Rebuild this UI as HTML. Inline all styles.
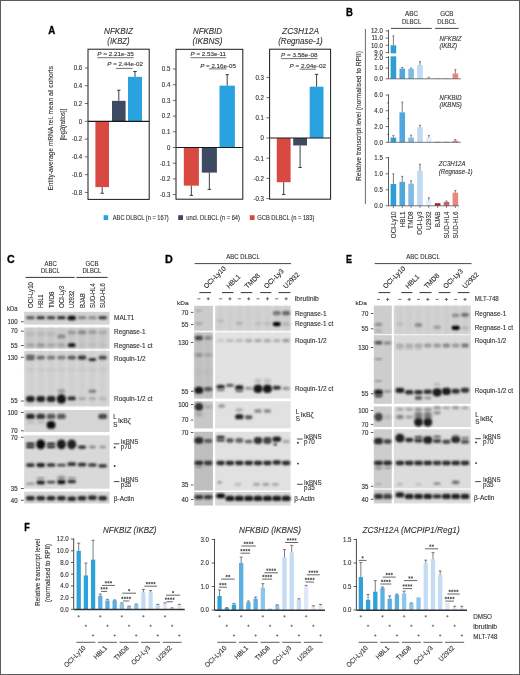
<!DOCTYPE html>
<html><head><meta charset="utf-8"><style>
html,body{margin:0;padding:0;background:#fff;}
svg{display:block;will-change:transform;}
text{font-family:"Liberation Sans", sans-serif;}
</style></head><body>
<svg width="520" height="675" viewBox="0 0 520 675">
<defs>
<filter id="bl" x="-50%" y="-50%" width="200%" height="200%"><feGaussianBlur stdDeviation="0.8"/></filter>
<filter id="bl2" x="-50%" y="-50%" width="200%" height="200%"><feGaussianBlur stdDeviation="1.4"/></filter>
<filter id="bl3" x="-20%" y="-20%" width="140%" height="140%"><feGaussianBlur stdDeviation="0.4"/></filter>
</defs>
<rect x="0" y="0" width="520" height="675" fill="#fff"/>
<text x="48.20" y="33.60" font-size="10.6" font-weight="bold" fill="#000" stroke="#000" stroke-width="0.3" textLength="7.00" lengthAdjust="spacingAndGlyphs">A</text>
<rect x="95.40" y="121.30" width="13.60" height="65.79" fill="#d84a41"/>
<line x1="102.20" y1="187.09" x2="102.20" y2="193.31" stroke="#2a2a2a" stroke-width="0.9"/>
<line x1="100.50" y1="193.31" x2="103.90" y2="193.31" stroke="#2a2a2a" stroke-width="0.9"/>
<rect x="112.00" y="100.85" width="13.60" height="20.45" fill="#3e4a62"/>
<line x1="118.80" y1="100.85" x2="118.80" y2="90.19" stroke="#2a2a2a" stroke-width="0.9"/>
<line x1="117.10" y1="90.19" x2="120.50" y2="90.19" stroke="#2a2a2a" stroke-width="0.9"/>
<rect x="128.00" y="76.85" width="14.00" height="44.45" fill="#29a3e0"/>
<line x1="135.00" y1="76.85" x2="135.00" y2="71.52" stroke="#2a2a2a" stroke-width="0.9"/>
<line x1="133.30" y1="71.52" x2="136.70" y2="71.52" stroke="#2a2a2a" stroke-width="0.9"/>
<rect x="88.00" y="49.20" width="61.20" height="150.20" fill="none" stroke="#1a1a1a" stroke-width="1"/>
<line x1="88.00" y1="121.30" x2="149.20" y2="121.30" stroke="#1a1a1a" stroke-width="1.2"/>
<line x1="84.80" y1="67.96" x2="88.00" y2="67.96" stroke="#333" stroke-width="0.7"/>
<text x="82.20" y="70.26" font-size="6.4" text-anchor="end" fill="#333" stroke="#333" stroke-width="0.12" textLength="8.45" lengthAdjust="spacingAndGlyphs">0.6</text>
<line x1="84.80" y1="85.74" x2="88.00" y2="85.74" stroke="#333" stroke-width="0.7"/>
<text x="82.20" y="88.04" font-size="6.4" text-anchor="end" fill="#333" stroke="#333" stroke-width="0.12" textLength="8.45" lengthAdjust="spacingAndGlyphs">0.4</text>
<line x1="84.80" y1="103.52" x2="88.00" y2="103.52" stroke="#333" stroke-width="0.7"/>
<text x="82.20" y="105.82" font-size="6.4" text-anchor="end" fill="#333" stroke="#333" stroke-width="0.12" textLength="8.45" lengthAdjust="spacingAndGlyphs">0.2</text>
<line x1="84.80" y1="121.30" x2="88.00" y2="121.30" stroke="#333" stroke-width="0.7"/>
<text x="82.20" y="123.60" font-size="6.4" text-anchor="end" fill="#333" stroke="#333" stroke-width="0.12" textLength="3.38" lengthAdjust="spacingAndGlyphs">0</text>
<line x1="84.80" y1="139.08" x2="88.00" y2="139.08" stroke="#333" stroke-width="0.7"/>
<text x="82.20" y="141.38" font-size="6.4" text-anchor="end" fill="#333" stroke="#333" stroke-width="0.12" textLength="10.48" lengthAdjust="spacingAndGlyphs">-0.2</text>
<line x1="84.80" y1="156.86" x2="88.00" y2="156.86" stroke="#333" stroke-width="0.7"/>
<text x="82.20" y="159.16" font-size="6.4" text-anchor="end" fill="#333" stroke="#333" stroke-width="0.12" textLength="10.48" lengthAdjust="spacingAndGlyphs">-0.4</text>
<line x1="84.80" y1="174.64" x2="88.00" y2="174.64" stroke="#333" stroke-width="0.7"/>
<text x="82.20" y="176.94" font-size="6.4" text-anchor="end" fill="#333" stroke="#333" stroke-width="0.12" textLength="10.48" lengthAdjust="spacingAndGlyphs">-0.6</text>
<line x1="84.80" y1="192.42" x2="88.00" y2="192.42" stroke="#333" stroke-width="0.7"/>
<text x="82.20" y="194.72" font-size="6.4" text-anchor="end" fill="#333" stroke="#333" stroke-width="0.12" textLength="10.48" lengthAdjust="spacingAndGlyphs">-0.8</text>
<text x="118.50" y="34.40" font-size="8.6" text-anchor="middle" fill="#333" stroke="#333" stroke-width="0.12" font-style="italic" textLength="29.00" lengthAdjust="spacingAndGlyphs">NFKBIZ</text>
<text x="118.50" y="44.30" font-size="8.6" text-anchor="middle" fill="#333" stroke="#333" stroke-width="0.12" font-style="italic" textLength="22.30" lengthAdjust="spacingAndGlyphs">(IKBZ)</text>
<text x="97.30" y="55.60" font-size="6.2" fill="#333" stroke="#333" stroke-width="0.12" textLength="36.40" lengthAdjust="spacingAndGlyphs"><tspan font-style="italic">P</tspan> = 2.21e-35</text>
<line x1="97.30" y1="57.70" x2="133.70" y2="57.70" stroke="#333" stroke-width="0.7"/>
<text x="107.30" y="66.40" font-size="6.2" fill="#333" stroke="#333" stroke-width="0.12" textLength="35.70" lengthAdjust="spacingAndGlyphs"><tspan font-style="italic">P</tspan> = 2.44e-02</text>
<line x1="116.00" y1="68.40" x2="132.30" y2="68.40" stroke="#333" stroke-width="0.7"/>
<rect x="183.80" y="147.50" width="15.10" height="38.15" fill="#d84a41"/>
<line x1="191.35" y1="185.65" x2="191.35" y2="195.38" stroke="#2a2a2a" stroke-width="0.9"/>
<line x1="189.65" y1="195.38" x2="193.05" y2="195.38" stroke="#2a2a2a" stroke-width="0.9"/>
<rect x="201.80" y="147.50" width="15.10" height="25.12" fill="#3e4a62"/>
<line x1="209.35" y1="172.62" x2="209.35" y2="189.42" stroke="#2a2a2a" stroke-width="0.9"/>
<line x1="207.65" y1="189.42" x2="211.05" y2="189.42" stroke="#2a2a2a" stroke-width="0.9"/>
<rect x="219.50" y="85.64" width="15.40" height="61.86" fill="#29a3e0"/>
<line x1="227.20" y1="85.64" x2="227.20" y2="74.65" stroke="#2a2a2a" stroke-width="0.9"/>
<line x1="225.50" y1="74.65" x2="228.90" y2="74.65" stroke="#2a2a2a" stroke-width="0.9"/>
<rect x="176.00" y="49.30" width="66.80" height="149.90" fill="none" stroke="#1a1a1a" stroke-width="1"/>
<line x1="176.00" y1="147.50" x2="242.80" y2="147.50" stroke="#1a1a1a" stroke-width="1.2"/>
<line x1="172.80" y1="69.00" x2="176.00" y2="69.00" stroke="#333" stroke-width="0.7"/>
<text x="170.30" y="71.30" font-size="6.4" text-anchor="end" fill="#333" stroke="#333" stroke-width="0.12" textLength="8.45" lengthAdjust="spacingAndGlyphs">0.5</text>
<line x1="172.80" y1="84.70" x2="176.00" y2="84.70" stroke="#333" stroke-width="0.7"/>
<text x="170.30" y="87.00" font-size="6.4" text-anchor="end" fill="#333" stroke="#333" stroke-width="0.12" textLength="8.45" lengthAdjust="spacingAndGlyphs">0.4</text>
<line x1="172.80" y1="100.40" x2="176.00" y2="100.40" stroke="#333" stroke-width="0.7"/>
<text x="170.30" y="102.70" font-size="6.4" text-anchor="end" fill="#333" stroke="#333" stroke-width="0.12" textLength="8.45" lengthAdjust="spacingAndGlyphs">0.3</text>
<line x1="172.80" y1="116.10" x2="176.00" y2="116.10" stroke="#333" stroke-width="0.7"/>
<text x="170.30" y="118.40" font-size="6.4" text-anchor="end" fill="#333" stroke="#333" stroke-width="0.12" textLength="8.45" lengthAdjust="spacingAndGlyphs">0.2</text>
<line x1="172.80" y1="131.80" x2="176.00" y2="131.80" stroke="#333" stroke-width="0.7"/>
<text x="170.30" y="134.10" font-size="6.4" text-anchor="end" fill="#333" stroke="#333" stroke-width="0.12" textLength="8.45" lengthAdjust="spacingAndGlyphs">0.1</text>
<line x1="172.80" y1="147.50" x2="176.00" y2="147.50" stroke="#333" stroke-width="0.7"/>
<text x="170.30" y="149.80" font-size="6.4" text-anchor="end" fill="#333" stroke="#333" stroke-width="0.12" textLength="3.38" lengthAdjust="spacingAndGlyphs">0</text>
<line x1="172.80" y1="163.20" x2="176.00" y2="163.20" stroke="#333" stroke-width="0.7"/>
<text x="170.30" y="165.50" font-size="6.4" text-anchor="end" fill="#333" stroke="#333" stroke-width="0.12" textLength="10.48" lengthAdjust="spacingAndGlyphs">-0.1</text>
<line x1="172.80" y1="178.90" x2="176.00" y2="178.90" stroke="#333" stroke-width="0.7"/>
<text x="170.30" y="181.20" font-size="6.4" text-anchor="end" fill="#333" stroke="#333" stroke-width="0.12" textLength="10.48" lengthAdjust="spacingAndGlyphs">-0.2</text>
<line x1="172.80" y1="194.60" x2="176.00" y2="194.60" stroke="#333" stroke-width="0.7"/>
<text x="170.30" y="196.90" font-size="6.4" text-anchor="end" fill="#333" stroke="#333" stroke-width="0.12" textLength="10.48" lengthAdjust="spacingAndGlyphs">-0.3</text>
<text x="207.50" y="34.40" font-size="8.6" text-anchor="middle" fill="#333" stroke="#333" stroke-width="0.12" font-style="italic" textLength="29.00" lengthAdjust="spacingAndGlyphs">NFKBID</text>
<text x="207.50" y="44.30" font-size="8.6" text-anchor="middle" fill="#333" stroke="#333" stroke-width="0.12" font-style="italic" textLength="30.00" lengthAdjust="spacingAndGlyphs">(IKBNS)</text>
<text x="190.50" y="56.30" font-size="6.2" fill="#333" stroke="#333" stroke-width="0.12" textLength="35.50" lengthAdjust="spacingAndGlyphs"><tspan font-style="italic">P</tspan> = 2.53e-11</text>
<line x1="190.50" y1="57.70" x2="226.00" y2="57.70" stroke="#333" stroke-width="0.7"/>
<text x="200.20" y="67.50" font-size="6.2" fill="#333" stroke="#333" stroke-width="0.12" textLength="35.70" lengthAdjust="spacingAndGlyphs"><tspan font-style="italic">P</tspan> = 2.16e-05</text>
<line x1="209.00" y1="68.90" x2="226.50" y2="68.90" stroke="#333" stroke-width="0.7"/>
<rect x="276.80" y="138.00" width="13.80" height="44.24" fill="#d84a41"/>
<line x1="283.70" y1="182.24" x2="283.70" y2="194.56" stroke="#2a2a2a" stroke-width="0.9"/>
<line x1="282.00" y1="194.56" x2="285.40" y2="194.56" stroke="#2a2a2a" stroke-width="0.9"/>
<rect x="293.20" y="138.00" width="13.80" height="7.47" fill="#3e4a62"/>
<line x1="300.10" y1="145.47" x2="300.10" y2="167.49" stroke="#2a2a2a" stroke-width="0.9"/>
<line x1="298.40" y1="167.49" x2="301.80" y2="167.49" stroke="#2a2a2a" stroke-width="0.9"/>
<rect x="309.70" y="86.69" width="13.80" height="51.31" fill="#29a3e0"/>
<line x1="316.60" y1="86.69" x2="316.60" y2="74.37" stroke="#2a2a2a" stroke-width="0.9"/>
<line x1="314.90" y1="74.37" x2="318.30" y2="74.37" stroke="#2a2a2a" stroke-width="0.9"/>
<rect x="269.60" y="49.20" width="61.00" height="150.00" fill="none" stroke="#1a1a1a" stroke-width="1"/>
<line x1="269.60" y1="138.00" x2="330.60" y2="138.00" stroke="#1a1a1a" stroke-width="1.2"/>
<line x1="266.40" y1="77.40" x2="269.60" y2="77.40" stroke="#333" stroke-width="0.7"/>
<text x="263.90" y="79.70" font-size="6.4" text-anchor="end" fill="#333" stroke="#333" stroke-width="0.12" textLength="8.45" lengthAdjust="spacingAndGlyphs">0.3</text>
<line x1="266.40" y1="97.60" x2="269.60" y2="97.60" stroke="#333" stroke-width="0.7"/>
<text x="263.90" y="99.90" font-size="6.4" text-anchor="end" fill="#333" stroke="#333" stroke-width="0.12" textLength="8.45" lengthAdjust="spacingAndGlyphs">0.2</text>
<line x1="266.40" y1="117.80" x2="269.60" y2="117.80" stroke="#333" stroke-width="0.7"/>
<text x="263.90" y="120.10" font-size="6.4" text-anchor="end" fill="#333" stroke="#333" stroke-width="0.12" textLength="8.45" lengthAdjust="spacingAndGlyphs">0.1</text>
<line x1="266.40" y1="138.00" x2="269.60" y2="138.00" stroke="#333" stroke-width="0.7"/>
<text x="263.90" y="140.30" font-size="6.4" text-anchor="end" fill="#333" stroke="#333" stroke-width="0.12" textLength="3.38" lengthAdjust="spacingAndGlyphs">0</text>
<line x1="266.40" y1="158.20" x2="269.60" y2="158.20" stroke="#333" stroke-width="0.7"/>
<text x="263.90" y="160.50" font-size="6.4" text-anchor="end" fill="#333" stroke="#333" stroke-width="0.12" textLength="10.48" lengthAdjust="spacingAndGlyphs">-0.1</text>
<line x1="266.40" y1="178.40" x2="269.60" y2="178.40" stroke="#333" stroke-width="0.7"/>
<text x="263.90" y="180.70" font-size="6.4" text-anchor="end" fill="#333" stroke="#333" stroke-width="0.12" textLength="10.48" lengthAdjust="spacingAndGlyphs">-0.2</text>
<line x1="266.40" y1="198.60" x2="269.60" y2="198.60" stroke="#333" stroke-width="0.7"/>
<text x="263.90" y="200.90" font-size="6.4" text-anchor="end" fill="#333" stroke="#333" stroke-width="0.12" textLength="10.48" lengthAdjust="spacingAndGlyphs">-0.3</text>
<text x="300.50" y="34.40" font-size="8.6" text-anchor="middle" fill="#333" stroke="#333" stroke-width="0.12" font-style="italic" textLength="37.00" lengthAdjust="spacingAndGlyphs">ZC3H12A</text>
<text x="300.50" y="44.30" font-size="8.6" text-anchor="middle" fill="#333" stroke="#333" stroke-width="0.12" font-style="italic" textLength="44.60" lengthAdjust="spacingAndGlyphs">(Regnase-1)</text>
<text x="281.00" y="57.00" font-size="6.2" fill="#333" stroke="#333" stroke-width="0.12" textLength="36.50" lengthAdjust="spacingAndGlyphs"><tspan font-style="italic">P</tspan> = 3.58e-08</text>
<line x1="281.00" y1="58.60" x2="317.50" y2="58.60" stroke="#333" stroke-width="0.7"/>
<text x="289.60" y="67.70" font-size="6.2" fill="#333" stroke="#333" stroke-width="0.12" textLength="36.40" lengthAdjust="spacingAndGlyphs"><tspan font-style="italic">P</tspan> = 2.04e-02</text>
<line x1="299.60" y1="69.20" x2="316.00" y2="69.20" stroke="#333" stroke-width="0.7"/>
<text x="53.30" y="128.30" font-size="7.2" text-anchor="middle" fill="#333" stroke="#333" stroke-width="0.12" textLength="124.60" lengthAdjust="spacingAndGlyphs" transform="rotate(-90 53.30 128.30)">Entity-average mRNA rel. mean all cohorts</text>
<text x="64.50" y="124.50" font-size="7.2" text-anchor="middle" fill="#333" stroke="#333" stroke-width="0.12" textLength="31.50" lengthAdjust="spacingAndGlyphs" transform="rotate(-90 64.50 124.50)">[log2(ratios)]</text>
<rect x="103.60" y="215.20" width="4.60" height="4.80" fill="#29a3e0"/>
<text x="112.80" y="220.20" font-size="6.6" fill="#333" stroke="#333" stroke-width="0.12" textLength="55.90" lengthAdjust="spacingAndGlyphs">ABC DLBCL (n = 167)</text>
<rect x="178.20" y="215.20" width="4.80" height="4.80" fill="#3e4a62"/>
<text x="186.30" y="220.20" font-size="6.6" fill="#333" stroke="#333" stroke-width="0.12" textLength="53.70" lengthAdjust="spacingAndGlyphs">uncl. DLBCL (n = 64)</text>
<rect x="249.80" y="215.20" width="4.80" height="4.80" fill="#d84a41"/>
<text x="257.30" y="220.20" font-size="6.6" fill="#333" stroke="#333" stroke-width="0.12" textLength="57.10" lengthAdjust="spacingAndGlyphs">GCB DLBCL (n = 183)</text>
<text x="346.00" y="15.60" font-size="10.6" font-weight="bold" fill="#000" stroke="#000" stroke-width="0.3" textLength="6.90" lengthAdjust="spacingAndGlyphs">B</text>
<text x="411.60" y="16.20" font-size="6.6" text-anchor="middle" fill="#333" stroke="#333" stroke-width="0.12" textLength="13.00" lengthAdjust="spacingAndGlyphs">ABC</text>
<text x="411.60" y="23.50" font-size="6.6" text-anchor="middle" fill="#333" stroke="#333" stroke-width="0.12" textLength="19.30" lengthAdjust="spacingAndGlyphs">DLBCL</text>
<text x="446.80" y="16.20" font-size="6.6" text-anchor="middle" fill="#333" stroke="#333" stroke-width="0.12" textLength="13.30" lengthAdjust="spacingAndGlyphs">GCB</text>
<text x="446.80" y="23.50" font-size="6.6" text-anchor="middle" fill="#333" stroke="#333" stroke-width="0.12" textLength="19.00" lengthAdjust="spacingAndGlyphs">DLBCL</text>
<line x1="391.00" y1="28.40" x2="431.80" y2="28.40" stroke="#333" stroke-width="0.9"/>
<line x1="435.00" y1="28.40" x2="458.70" y2="28.40" stroke="#333" stroke-width="0.9"/>
<line x1="365.40" y1="29.00" x2="365.40" y2="204.00" stroke="#444" stroke-width="0.8"/>
<text x="360.80" y="116.00" font-size="7.0" text-anchor="middle" fill="#333" stroke="#333" stroke-width="0.12" textLength="130.00" lengthAdjust="spacingAndGlyphs" transform="rotate(-90 360.80 116.00)">Relative transcript level (normalised to RPII)</text>
<line x1="388.50" y1="29.80" x2="388.50" y2="78.80" stroke="#333" stroke-width="0.8"/>
<line x1="385.70" y1="30.90" x2="388.50" y2="30.90" stroke="#333" stroke-width="0.7"/>
<text x="382.80" y="33.10" font-size="6.4" text-anchor="end" fill="#333" stroke="#333" stroke-width="0.12" textLength="11.83" lengthAdjust="spacingAndGlyphs">12.0</text>
<line x1="385.70" y1="38.10" x2="388.50" y2="38.10" stroke="#333" stroke-width="0.7"/>
<text x="382.80" y="40.30" font-size="6.4" text-anchor="end" fill="#333" stroke="#333" stroke-width="0.12" textLength="11.38" lengthAdjust="spacingAndGlyphs">11.0</text>
<line x1="385.70" y1="45.30" x2="388.50" y2="45.30" stroke="#333" stroke-width="0.7"/>
<text x="382.80" y="47.50" font-size="6.4" text-anchor="end" fill="#333" stroke="#333" stroke-width="0.12" textLength="11.83" lengthAdjust="spacingAndGlyphs">10.0</text>
<line x1="385.70" y1="52.50" x2="388.50" y2="52.50" stroke="#333" stroke-width="0.7"/>
<text x="382.80" y="54.70" font-size="6.4" text-anchor="end" fill="#333" stroke="#333" stroke-width="0.12" textLength="8.45" lengthAdjust="spacingAndGlyphs">9.0</text>
<line x1="385.70" y1="57.40" x2="388.50" y2="57.40" stroke="#333" stroke-width="0.7"/>
<text x="382.80" y="59.60" font-size="6.4" text-anchor="end" fill="#333" stroke="#333" stroke-width="0.12" textLength="8.45" lengthAdjust="spacingAndGlyphs">2.0</text>
<line x1="385.70" y1="68.10" x2="388.50" y2="68.10" stroke="#333" stroke-width="0.7"/>
<text x="382.80" y="70.30" font-size="6.4" text-anchor="end" fill="#333" stroke="#333" stroke-width="0.12" textLength="8.45" lengthAdjust="spacingAndGlyphs">1.0</text>
<line x1="385.70" y1="78.80" x2="388.50" y2="78.80" stroke="#333" stroke-width="0.7"/>
<text x="382.80" y="81.00" font-size="6.4" text-anchor="end" fill="#333" stroke="#333" stroke-width="0.12" textLength="8.45" lengthAdjust="spacingAndGlyphs">0.0</text>
<rect x="390.60" y="45.30" width="5.60" height="33.50" fill="#2e9fd6"/>
<line x1="393.40" y1="45.30" x2="393.40" y2="35.94" stroke="#666" stroke-width="0.85"/>
<line x1="392.40" y1="35.94" x2="394.40" y2="35.94" stroke="#666" stroke-width="0.85"/>
<rect x="399.45" y="68.63" width="5.60" height="10.17" fill="#4fa7dd"/>
<line x1="402.25" y1="68.63" x2="402.25" y2="67.56" stroke="#666" stroke-width="0.85"/>
<line x1="401.25" y1="67.56" x2="403.25" y2="67.56" stroke="#666" stroke-width="0.85"/>
<rect x="408.30" y="68.96" width="5.60" height="9.84" fill="#7fbbe6"/>
<line x1="411.10" y1="68.96" x2="411.10" y2="68.10" stroke="#666" stroke-width="0.85"/>
<line x1="410.10" y1="68.10" x2="412.10" y2="68.10" stroke="#666" stroke-width="0.85"/>
<rect x="417.15" y="64.89" width="5.60" height="13.91" fill="#c0daf2"/>
<line x1="419.95" y1="64.89" x2="419.95" y2="61.68" stroke="#666" stroke-width="0.85"/>
<line x1="418.95" y1="61.68" x2="420.95" y2="61.68" stroke="#666" stroke-width="0.85"/>
<rect x="426.00" y="77.52" width="5.60" height="1.28" fill="#e6eef8"/>
<line x1="428.80" y1="77.52" x2="428.80" y2="77.19" stroke="#666" stroke-width="0.85"/>
<line x1="427.80" y1="77.19" x2="429.80" y2="77.19" stroke="#666" stroke-width="0.85"/>
<rect x="434.85" y="78.59" width="5.60" height="0.21" fill="#9e1a35"/>
<rect x="443.70" y="78.48" width="5.60" height="0.32" fill="#c85f66"/>
<rect x="452.55" y="73.45" width="5.60" height="5.35" fill="#e8887c"/>
<line x1="455.35" y1="73.45" x2="455.35" y2="69.70" stroke="#666" stroke-width="0.85"/>
<line x1="454.35" y1="69.70" x2="456.35" y2="69.70" stroke="#666" stroke-width="0.85"/>
<rect x="387.50" y="53.40" width="10.00" height="2.90" fill="#fff"/>
<line x1="388.50" y1="78.80" x2="460.80" y2="78.80" stroke="#555" stroke-width="0.8"/>
<text x="439.60" y="40.60" font-size="6.4" fill="#333" stroke="#333" stroke-width="0.12" font-style="italic" textLength="21.90" lengthAdjust="spacingAndGlyphs">NFKBIZ</text>
<text x="439.60" y="47.90" font-size="6.4" fill="#333" stroke="#333" stroke-width="0.12" font-style="italic" textLength="17.56" lengthAdjust="spacingAndGlyphs">(IKBZ)</text>
<line x1="388.50" y1="94.30" x2="388.50" y2="142.30" stroke="#333" stroke-width="0.8"/>
<line x1="385.70" y1="95.02" x2="388.50" y2="95.02" stroke="#333" stroke-width="0.7"/>
<text x="382.80" y="97.22" font-size="6.4" text-anchor="end" fill="#333" stroke="#333" stroke-width="0.12" textLength="8.45" lengthAdjust="spacingAndGlyphs">6.0</text>
<line x1="385.70" y1="110.78" x2="388.50" y2="110.78" stroke="#333" stroke-width="0.7"/>
<text x="382.80" y="112.98" font-size="6.4" text-anchor="end" fill="#333" stroke="#333" stroke-width="0.12" textLength="8.45" lengthAdjust="spacingAndGlyphs">4.0</text>
<line x1="385.70" y1="126.54" x2="388.50" y2="126.54" stroke="#333" stroke-width="0.7"/>
<text x="382.80" y="128.74" font-size="6.4" text-anchor="end" fill="#333" stroke="#333" stroke-width="0.12" textLength="8.45" lengthAdjust="spacingAndGlyphs">2.0</text>
<line x1="385.70" y1="142.30" x2="388.50" y2="142.30" stroke="#333" stroke-width="0.7"/>
<text x="382.80" y="144.50" font-size="6.4" text-anchor="end" fill="#333" stroke="#333" stroke-width="0.12" textLength="8.45" lengthAdjust="spacingAndGlyphs">0.0</text>
<line x1="386.90" y1="102.90" x2="388.50" y2="102.90" stroke="#333" stroke-width="0.6"/>
<line x1="386.90" y1="118.66" x2="388.50" y2="118.66" stroke="#333" stroke-width="0.6"/>
<line x1="386.90" y1="134.42" x2="388.50" y2="134.42" stroke="#333" stroke-width="0.6"/>
<rect x="390.60" y="137.57" width="5.60" height="4.73" fill="#2e9fd6"/>
<line x1="393.40" y1="137.57" x2="393.40" y2="135.60" stroke="#666" stroke-width="0.85"/>
<line x1="392.40" y1="135.60" x2="394.40" y2="135.60" stroke="#666" stroke-width="0.85"/>
<rect x="399.45" y="112.36" width="5.60" height="29.94" fill="#4fa7dd"/>
<line x1="402.25" y1="112.36" x2="402.25" y2="102.11" stroke="#666" stroke-width="0.85"/>
<line x1="401.25" y1="102.11" x2="403.25" y2="102.11" stroke="#666" stroke-width="0.85"/>
<rect x="408.30" y="137.57" width="5.60" height="4.73" fill="#7fbbe6"/>
<line x1="411.10" y1="137.57" x2="411.10" y2="135.21" stroke="#666" stroke-width="0.85"/>
<line x1="410.10" y1="135.21" x2="412.10" y2="135.21" stroke="#666" stroke-width="0.85"/>
<rect x="417.15" y="127.33" width="5.60" height="14.97" fill="#c0daf2"/>
<line x1="419.95" y1="127.33" x2="419.95" y2="125.36" stroke="#666" stroke-width="0.85"/>
<line x1="418.95" y1="125.36" x2="420.95" y2="125.36" stroke="#666" stroke-width="0.85"/>
<rect x="426.00" y="137.57" width="5.60" height="4.73" fill="#e6eef8"/>
<line x1="428.80" y1="137.57" x2="428.80" y2="135.60" stroke="#666" stroke-width="0.85"/>
<line x1="427.80" y1="135.60" x2="429.80" y2="135.60" stroke="#666" stroke-width="0.85"/>
<rect x="434.85" y="141.91" width="5.60" height="0.39" fill="#9e1a35"/>
<rect x="443.70" y="141.83" width="5.60" height="0.47" fill="#c85f66"/>
<rect x="452.55" y="140.72" width="5.60" height="1.58" fill="#e8887c"/>
<line x1="455.35" y1="140.72" x2="455.35" y2="139.54" stroke="#666" stroke-width="0.85"/>
<line x1="454.35" y1="139.54" x2="456.35" y2="139.54" stroke="#666" stroke-width="0.85"/>
<line x1="388.50" y1="142.30" x2="460.80" y2="142.30" stroke="#555" stroke-width="0.8"/>
<text x="439.60" y="99.60" font-size="6.4" fill="#333" stroke="#333" stroke-width="0.12" font-style="italic" textLength="21.90" lengthAdjust="spacingAndGlyphs">NFKBID</text>
<text x="439.60" y="107.20" font-size="6.4" fill="#333" stroke="#333" stroke-width="0.12" font-style="italic" textLength="22.30" lengthAdjust="spacingAndGlyphs">(IKBNS)</text>
<line x1="388.50" y1="157.00" x2="388.50" y2="205.80" stroke="#333" stroke-width="0.8"/>
<line x1="385.70" y1="157.80" x2="388.50" y2="157.80" stroke="#333" stroke-width="0.7"/>
<text x="382.80" y="160.00" font-size="6.4" text-anchor="end" fill="#333" stroke="#333" stroke-width="0.12" textLength="8.45" lengthAdjust="spacingAndGlyphs">1.5</text>
<line x1="385.70" y1="173.80" x2="388.50" y2="173.80" stroke="#333" stroke-width="0.7"/>
<text x="382.80" y="176.00" font-size="6.4" text-anchor="end" fill="#333" stroke="#333" stroke-width="0.12" textLength="8.45" lengthAdjust="spacingAndGlyphs">1.0</text>
<line x1="385.70" y1="189.80" x2="388.50" y2="189.80" stroke="#333" stroke-width="0.7"/>
<text x="382.80" y="192.00" font-size="6.4" text-anchor="end" fill="#333" stroke="#333" stroke-width="0.12" textLength="8.45" lengthAdjust="spacingAndGlyphs">0.5</text>
<line x1="385.70" y1="205.80" x2="388.50" y2="205.80" stroke="#333" stroke-width="0.7"/>
<text x="382.80" y="208.00" font-size="6.4" text-anchor="end" fill="#333" stroke="#333" stroke-width="0.12" textLength="8.45" lengthAdjust="spacingAndGlyphs">0.0</text>
<rect x="390.60" y="184.04" width="5.60" height="21.76" fill="#2e9fd6"/>
<line x1="393.40" y1="184.04" x2="393.40" y2="173.80" stroke="#666" stroke-width="0.85"/>
<line x1="392.40" y1="173.80" x2="394.40" y2="173.80" stroke="#666" stroke-width="0.85"/>
<rect x="399.45" y="181.80" width="5.60" height="24.00" fill="#4fa7dd"/>
<line x1="402.25" y1="181.80" x2="402.25" y2="176.36" stroke="#666" stroke-width="0.85"/>
<line x1="401.25" y1="176.36" x2="403.25" y2="176.36" stroke="#666" stroke-width="0.85"/>
<rect x="408.30" y="183.72" width="5.60" height="22.08" fill="#7fbbe6"/>
<line x1="411.10" y1="183.72" x2="411.10" y2="180.84" stroke="#666" stroke-width="0.85"/>
<line x1="410.10" y1="180.84" x2="412.10" y2="180.84" stroke="#666" stroke-width="0.85"/>
<rect x="417.15" y="170.60" width="5.60" height="35.20" fill="#c0daf2"/>
<line x1="419.95" y1="170.60" x2="419.95" y2="164.20" stroke="#666" stroke-width="0.85"/>
<line x1="418.95" y1="164.20" x2="420.95" y2="164.20" stroke="#666" stroke-width="0.85"/>
<rect x="426.00" y="200.68" width="5.60" height="5.12" fill="#e6eef8"/>
<line x1="428.80" y1="200.68" x2="428.80" y2="197.80" stroke="#666" stroke-width="0.85"/>
<line x1="427.80" y1="197.80" x2="429.80" y2="197.80" stroke="#666" stroke-width="0.85"/>
<rect x="434.85" y="203.24" width="5.60" height="2.56" fill="#9e1a35"/>
<rect x="443.70" y="201.96" width="5.60" height="3.84" fill="#c85f66"/>
<line x1="446.50" y1="201.96" x2="446.50" y2="201.00" stroke="#666" stroke-width="0.85"/>
<line x1="445.50" y1="201.00" x2="447.50" y2="201.00" stroke="#666" stroke-width="0.85"/>
<rect x="452.55" y="192.68" width="5.60" height="13.12" fill="#e8887c"/>
<line x1="455.35" y1="192.68" x2="455.35" y2="190.44" stroke="#666" stroke-width="0.85"/>
<line x1="454.35" y1="190.44" x2="456.35" y2="190.44" stroke="#666" stroke-width="0.85"/>
<line x1="388.50" y1="205.80" x2="459.00" y2="205.80" stroke="#555" stroke-width="0.8"/>
<line x1="393.40" y1="205.80" x2="393.40" y2="208.00" stroke="#333" stroke-width="0.6"/>
<line x1="402.25" y1="205.80" x2="402.25" y2="208.00" stroke="#333" stroke-width="0.6"/>
<line x1="411.10" y1="205.80" x2="411.10" y2="208.00" stroke="#333" stroke-width="0.6"/>
<line x1="419.95" y1="205.80" x2="419.95" y2="208.00" stroke="#333" stroke-width="0.6"/>
<line x1="428.80" y1="205.80" x2="428.80" y2="208.00" stroke="#333" stroke-width="0.6"/>
<line x1="437.65" y1="205.80" x2="437.65" y2="208.00" stroke="#333" stroke-width="0.6"/>
<line x1="446.50" y1="205.80" x2="446.50" y2="208.00" stroke="#333" stroke-width="0.6"/>
<line x1="455.35" y1="205.80" x2="455.35" y2="208.00" stroke="#333" stroke-width="0.6"/>
<text x="438.80" y="166.20" font-size="6.4" fill="#333" stroke="#333" stroke-width="0.12" font-style="italic" textLength="26.69" lengthAdjust="spacingAndGlyphs">ZC3H12A</text>
<text x="438.80" y="173.80" font-size="6.4" fill="#333" stroke="#333" stroke-width="0.12" font-style="italic" textLength="33.79" lengthAdjust="spacingAndGlyphs">(Regnase-1)</text>
<text x="395.70" y="211.60" font-size="6.6" text-anchor="end" fill="#333" stroke="#333" stroke-width="0.12" textLength="26.60" lengthAdjust="spacingAndGlyphs" transform="rotate(-90 395.70 211.60)">OCI-Ly10</text>
<text x="404.55" y="211.60" font-size="6.6" text-anchor="end" fill="#333" stroke="#333" stroke-width="0.12" textLength="15.68" lengthAdjust="spacingAndGlyphs" transform="rotate(-90 404.55 211.60)">HBL1</text>
<text x="413.40" y="211.60" font-size="6.6" text-anchor="end" fill="#333" stroke="#333" stroke-width="0.12" textLength="17.07" lengthAdjust="spacingAndGlyphs" transform="rotate(-90 413.40 211.60)">TMD8</text>
<text x="422.25" y="211.60" font-size="6.6" text-anchor="end" fill="#333" stroke="#333" stroke-width="0.12" textLength="23.11" lengthAdjust="spacingAndGlyphs" transform="rotate(-90 422.25 211.60)">OCI-Ly3</text>
<text x="431.10" y="211.60" font-size="6.6" text-anchor="end" fill="#333" stroke="#333" stroke-width="0.12" textLength="18.47" lengthAdjust="spacingAndGlyphs" transform="rotate(-90 431.10 211.60)">U2932</text>
<text x="439.95" y="211.60" font-size="6.6" text-anchor="end" fill="#333" stroke="#333" stroke-width="0.12" textLength="15.68" lengthAdjust="spacingAndGlyphs" transform="rotate(-90 439.95 211.60)">BJAB</text>
<text x="448.80" y="211.60" font-size="6.6" text-anchor="end" fill="#333" stroke="#333" stroke-width="0.12" textLength="26.83" lengthAdjust="spacingAndGlyphs" transform="rotate(-90 448.80 211.60)">SUD-HL4</text>
<text x="457.65" y="211.60" font-size="6.6" text-anchor="end" fill="#333" stroke="#333" stroke-width="0.12" textLength="26.83" lengthAdjust="spacingAndGlyphs" transform="rotate(-90 457.65 211.60)">SUD-HL6</text>
<text x="7.10" y="262.80" font-size="10.6" font-weight="bold" fill="#000" stroke="#000" stroke-width="0.3" textLength="7.70" lengthAdjust="spacingAndGlyphs">C</text>
<text x="50.65" y="265.80" font-size="6.4" text-anchor="middle" fill="#333" stroke="#333" stroke-width="0.12" textLength="12.30" lengthAdjust="spacingAndGlyphs">ABC</text>
<text x="50.40" y="273.10" font-size="6.4" text-anchor="middle" fill="#333" stroke="#333" stroke-width="0.12" textLength="18.80" lengthAdjust="spacingAndGlyphs">DLBCL</text>
<text x="92.00" y="265.80" font-size="6.4" text-anchor="middle" fill="#333" stroke="#333" stroke-width="0.12" textLength="13.20" lengthAdjust="spacingAndGlyphs">GCB</text>
<text x="91.85" y="273.10" font-size="6.4" text-anchor="middle" fill="#333" stroke="#333" stroke-width="0.12" textLength="18.90" lengthAdjust="spacingAndGlyphs">DLBCL</text>
<line x1="25.50" y1="277.40" x2="74.60" y2="277.40" stroke="#333" stroke-width="1.0"/>
<line x1="76.40" y1="277.40" x2="107.60" y2="277.40" stroke="#333" stroke-width="1.0"/>
<text x="32.90" y="308.00" font-size="6.8" fill="#2a2a2a" stroke="#2a2a2a" stroke-width="0.12" textLength="26.00" lengthAdjust="spacingAndGlyphs" transform="rotate(-90 32.90 308.00)">OCI-Ly10</text>
<text x="43.23" y="308.00" font-size="6.8" fill="#2a2a2a" stroke="#2a2a2a" stroke-width="0.12" textLength="13.60" lengthAdjust="spacingAndGlyphs" transform="rotate(-90 43.23 308.00)">HBL1</text>
<text x="53.56" y="308.00" font-size="6.8" fill="#2a2a2a" stroke="#2a2a2a" stroke-width="0.12" textLength="16.50" lengthAdjust="spacingAndGlyphs" transform="rotate(-90 53.56 308.00)">TMD8</text>
<text x="63.89" y="308.00" font-size="6.8" fill="#2a2a2a" stroke="#2a2a2a" stroke-width="0.12" textLength="22.20" lengthAdjust="spacingAndGlyphs" transform="rotate(-90 63.89 308.00)">OCI-Ly3</text>
<text x="74.22" y="308.00" font-size="6.8" fill="#2a2a2a" stroke="#2a2a2a" stroke-width="0.12" textLength="17.30" lengthAdjust="spacingAndGlyphs" transform="rotate(-90 74.22 308.00)">U2932</text>
<text x="84.55" y="308.00" font-size="6.8" fill="#2a2a2a" stroke="#2a2a2a" stroke-width="0.12" textLength="14.70" lengthAdjust="spacingAndGlyphs" transform="rotate(-90 84.55 308.00)">BJAB</text>
<text x="94.88" y="308.00" font-size="6.8" fill="#2a2a2a" stroke="#2a2a2a" stroke-width="0.12" textLength="24.60" lengthAdjust="spacingAndGlyphs" transform="rotate(-90 94.88 308.00)">SUD-HL4</text>
<text x="105.21" y="308.00" font-size="6.8" fill="#2a2a2a" stroke="#2a2a2a" stroke-width="0.12" textLength="24.60" lengthAdjust="spacingAndGlyphs" transform="rotate(-90 105.21 308.00)">SUD-HL6</text>
<text x="7.10" y="311.40" font-size="6.4" fill="#333" stroke="#333" stroke-width="0.12" textLength="10.40" lengthAdjust="spacingAndGlyphs">kDa</text>
<rect x="24.20" y="311.80" width="85.40" height="12.80" fill="#d3d3d3"/>
<rect x="26.20" y="316.35" width="8.40" height="2.90" rx="1.45" fill="rgb(81,81,81)" filter="url(#bl)"/>
<rect x="36.53" y="316.35" width="8.40" height="2.90" rx="1.45" fill="rgb(46,46,46)" filter="url(#bl)"/>
<rect x="46.86" y="316.35" width="8.40" height="2.90" rx="1.45" fill="rgb(57,57,57)" filter="url(#bl)"/>
<rect x="57.19" y="316.35" width="8.40" height="2.90" rx="1.45" fill="rgb(34,34,34)" filter="url(#bl)"/>
<rect x="67.42" y="315.65" width="8.60" height="4.70" rx="2.35" fill="rgb(16,16,16)" filter="url(#bl)"/>
<rect x="77.85" y="316.35" width="8.40" height="2.90" rx="1.45" fill="rgb(122,122,122)" filter="url(#bl)"/>
<rect x="88.18" y="316.35" width="8.40" height="2.90" rx="1.45" fill="rgb(137,137,137)" filter="url(#bl)"/>
<rect x="98.51" y="316.35" width="8.40" height="2.90" rx="1.45" fill="rgb(46,46,46)" filter="url(#bl)"/>
<rect x="24.20" y="327.60" width="85.40" height="21.10" fill="#d2d2d2"/>
<rect x="26.60" y="328.40" width="7.60" height="19.50" fill="#c6c6c6" filter="url(#bl2)"/>
<rect x="36.93" y="328.40" width="7.60" height="19.50" fill="#c6c6c6" filter="url(#bl2)"/>
<rect x="47.26" y="328.40" width="7.60" height="19.50" fill="#c6c6c6" filter="url(#bl2)"/>
<rect x="57.59" y="328.40" width="7.60" height="19.50" fill="#c6c6c6" filter="url(#bl2)"/>
<rect x="67.92" y="328.40" width="7.60" height="19.50" fill="#c6c6c6" filter="url(#bl2)"/>
<rect x="78.25" y="328.40" width="7.60" height="19.50" fill="#c6c6c6" filter="url(#bl2)"/>
<rect x="88.58" y="328.40" width="7.60" height="19.50" fill="#c6c6c6" filter="url(#bl2)"/>
<rect x="98.91" y="328.40" width="7.60" height="19.50" fill="#c6c6c6" filter="url(#bl2)"/>
<rect x="26.20" y="332.70" width="8.40" height="2.60" rx="1.30" fill="rgb(175,175,175)" filter="url(#bl2)"/>
<rect x="36.53" y="332.70" width="8.40" height="2.60" rx="1.30" fill="rgb(175,175,175)" filter="url(#bl2)"/>
<rect x="46.86" y="332.70" width="8.40" height="2.60" rx="1.30" fill="rgb(176,176,176)" filter="url(#bl2)"/>
<rect x="57.19" y="334.55" width="8.40" height="3.70" rx="1.85" fill="rgb(138,138,138)" filter="url(#bl)"/>
<rect x="67.52" y="330.65" width="8.40" height="3.70" rx="1.85" fill="rgb(152,152,152)" filter="url(#bl)"/>
<rect x="77.85" y="330.45" width="8.40" height="3.70" rx="1.85" fill="rgb(136,136,136)" filter="url(#bl)"/>
<rect x="88.18" y="330.35" width="8.40" height="3.70" rx="1.85" fill="rgb(155,155,155)" filter="url(#bl)"/>
<rect x="98.51" y="330.65" width="8.40" height="3.70" rx="1.85" fill="rgb(169,169,169)" filter="url(#bl)"/>
<rect x="26.40" y="343.90" width="8.00" height="2.60" rx="1.30" fill="rgb(144,144,144)" filter="url(#bl2)"/>
<rect x="36.73" y="343.90" width="8.00" height="2.60" rx="1.30" fill="rgb(122,122,122)" filter="url(#bl2)"/>
<rect x="47.06" y="343.90" width="8.00" height="2.60" rx="1.30" fill="rgb(147,147,147)" filter="url(#bl2)"/>
<rect x="57.39" y="343.90" width="8.00" height="2.60" rx="1.30" fill="rgb(144,144,144)" filter="url(#bl2)"/>
<rect x="67.92" y="343.35" width="7.60" height="3.70" rx="1.85" fill="rgb(13,13,13)" filter="url(#bl)"/>
<rect x="78.05" y="343.90" width="8.00" height="2.60" rx="1.30" fill="rgb(184,184,184)" filter="url(#bl2)"/>
<rect x="88.38" y="343.90" width="8.00" height="2.60" rx="1.30" fill="rgb(184,184,184)" filter="url(#bl2)"/>
<rect x="98.71" y="343.90" width="8.00" height="2.60" rx="1.30" fill="rgb(187,187,187)" filter="url(#bl2)"/>
<rect x="24.20" y="350.90" width="85.40" height="55.40" fill="#d8d8d8"/>
<rect x="26.60" y="351.70" width="7.60" height="53.80" fill="#d0d0d0" filter="url(#bl2)"/>
<rect x="36.93" y="351.70" width="7.60" height="53.80" fill="#d0d0d0" filter="url(#bl2)"/>
<rect x="47.26" y="351.70" width="7.60" height="53.80" fill="#d0d0d0" filter="url(#bl2)"/>
<rect x="57.59" y="351.70" width="7.60" height="53.80" fill="#d0d0d0" filter="url(#bl2)"/>
<rect x="67.92" y="351.70" width="7.60" height="53.80" fill="#d0d0d0" filter="url(#bl2)"/>
<rect x="78.25" y="351.70" width="7.60" height="53.80" fill="#d0d0d0" filter="url(#bl2)"/>
<rect x="88.58" y="351.70" width="7.60" height="53.80" fill="#d0d0d0" filter="url(#bl2)"/>
<rect x="98.91" y="351.70" width="7.60" height="53.80" fill="#d0d0d0" filter="url(#bl2)"/>
<rect x="26.20" y="355.05" width="8.40" height="2.50" rx="1.25" fill="rgb(74,74,74)" filter="url(#bl)"/>
<rect x="26.20" y="357.55" width="8.40" height="2.50" rx="1.25" fill="rgb(74,74,74)" filter="url(#bl)"/>
<rect x="36.53" y="355.75" width="8.40" height="3.70" rx="1.85" fill="rgb(104,104,104)" filter="url(#bl)"/>
<rect x="46.86" y="355.75" width="8.40" height="3.70" rx="1.85" fill="rgb(120,120,120)" filter="url(#bl)"/>
<rect x="57.19" y="355.75" width="8.40" height="3.70" rx="1.85" fill="rgb(124,124,124)" filter="url(#bl)"/>
<rect x="67.52" y="355.75" width="8.40" height="3.70" rx="1.85" fill="rgb(87,87,87)" filter="url(#bl)"/>
<rect x="77.75" y="355.45" width="8.60" height="4.30" rx="2.15" fill="rgb(57,57,57)" filter="url(#bl)"/>
<rect x="88.58" y="358.15" width="7.60" height="2.90" rx="1.45" fill="rgb(29,29,29)" filter="url(#bl)"/>
<rect x="98.51" y="355.75" width="8.40" height="3.70" rx="1.85" fill="rgb(69,69,69)" filter="url(#bl)"/>
<rect x="26.40" y="368.55" width="8.00" height="2.50" rx="1.25" fill="rgb(196,196,196)" filter="url(#bl2)"/>
<rect x="36.73" y="368.55" width="8.00" height="2.50" rx="1.25" fill="rgb(196,196,196)" filter="url(#bl2)"/>
<rect x="47.06" y="368.55" width="8.00" height="2.50" rx="1.25" fill="rgb(196,196,196)" filter="url(#bl2)"/>
<rect x="57.39" y="368.55" width="8.00" height="2.50" rx="1.25" fill="rgb(196,196,196)" filter="url(#bl2)"/>
<rect x="67.72" y="368.55" width="8.00" height="2.50" rx="1.25" fill="rgb(196,196,196)" filter="url(#bl2)"/>
<rect x="78.05" y="368.55" width="8.00" height="2.50" rx="1.25" fill="rgb(196,196,196)" filter="url(#bl2)"/>
<rect x="88.38" y="368.55" width="8.00" height="2.50" rx="1.25" fill="rgb(196,196,196)" filter="url(#bl2)"/>
<rect x="98.71" y="368.55" width="8.00" height="2.50" rx="1.25" fill="rgb(196,196,196)" filter="url(#bl2)"/>
<rect x="88.58" y="389.75" width="7.60" height="3.10" rx="1.55" fill="rgb(123,123,123)" filter="url(#bl)"/>
<rect x="57.64" y="389.50" width="7.50" height="3.00" rx="1.50" fill="rgb(139,139,139)" filter="url(#bl2)"/>
<rect x="26.00" y="396.05" width="8.80" height="5.90" rx="2.95" fill="rgb(34,34,34)" filter="url(#bl)"/>
<rect x="36.33" y="396.05" width="8.80" height="5.90" rx="2.95" fill="rgb(34,34,34)" filter="url(#bl)"/>
<rect x="46.66" y="396.05" width="8.80" height="5.90" rx="2.95" fill="rgb(38,38,38)" filter="url(#bl)"/>
<rect x="56.69" y="394.25" width="9.40" height="9.50" rx="4.70" fill="rgb(22,22,22)" filter="url(#bl)"/>
<rect x="67.62" y="396.55" width="8.20" height="3.70" rx="1.85" fill="rgb(38,38,38)" filter="url(#bl)"/>
<rect x="78.35" y="397.25" width="7.40" height="2.70" rx="1.35" fill="rgb(164,164,164)" filter="url(#bl)"/>
<rect x="88.68" y="397.25" width="7.40" height="2.70" rx="1.35" fill="rgb(168,168,168)" filter="url(#bl)"/>
<rect x="99.01" y="397.25" width="7.40" height="2.70" rx="1.35" fill="rgb(177,177,177)" filter="url(#bl)"/>
<rect x="24.20" y="410.00" width="85.40" height="22.00" fill="#d5d5d5"/>
<rect x="26.00" y="413.85" width="8.80" height="5.10" rx="2.55" fill="rgb(42,42,42)" filter="url(#bl)"/>
<rect x="36.33" y="413.85" width="8.80" height="5.10" rx="2.55" fill="rgb(56,56,56)" filter="url(#bl)"/>
<rect x="46.66" y="413.85" width="8.80" height="5.10" rx="2.55" fill="rgb(90,90,90)" filter="url(#bl)"/>
<rect x="56.99" y="413.85" width="8.80" height="5.10" rx="2.55" fill="rgb(90,90,90)" filter="url(#bl)"/>
<rect x="98.31" y="413.85" width="8.80" height="5.10" rx="2.55" fill="rgb(74,74,74)" filter="url(#bl)"/>
<rect x="26.60" y="420.50" width="7.60" height="3.00" rx="1.50" fill="rgb(180,180,180)" filter="url(#bl2)"/>
<rect x="36.93" y="420.50" width="7.60" height="3.00" rx="1.50" fill="rgb(180,180,180)" filter="url(#bl2)"/>
<rect x="46.66" y="420.95" width="8.80" height="7.90" rx="3.95" fill="rgb(17,17,17)" filter="url(#bl)"/>
<rect x="24.20" y="435.30" width="85.40" height="53.40" fill="#d9d9d9"/>
<rect x="26.20" y="442.55" width="8.40" height="2.70" rx="1.35" fill="rgb(35,35,35)" filter="url(#bl)"/>
<rect x="26.20" y="445.55" width="8.40" height="2.70" rx="1.35" fill="rgb(35,35,35)" filter="url(#bl)"/>
<rect x="36.23" y="439.45" width="9.00" height="9.90" rx="4.50" fill="rgb(17,17,17)" filter="url(#bl)"/>
<rect x="46.86" y="442.55" width="8.40" height="2.70" rx="1.35" fill="rgb(40,40,40)" filter="url(#bl)"/>
<rect x="46.86" y="445.55" width="8.40" height="2.70" rx="1.35" fill="rgb(40,40,40)" filter="url(#bl)"/>
<rect x="56.89" y="439.45" width="9.00" height="9.90" rx="4.50" fill="rgb(26,26,26)" filter="url(#bl)"/>
<rect x="67.22" y="439.45" width="9.00" height="9.90" rx="4.50" fill="rgb(34,34,34)" filter="url(#bl)"/>
<rect x="78.05" y="445.55" width="8.00" height="3.10" rx="1.55" fill="rgb(42,42,42)" filter="url(#bl)"/>
<rect x="89.18" y="445.85" width="6.40" height="2.50" rx="1.25" fill="rgb(128,128,128)" filter="url(#bl)"/>
<rect x="99.51" y="445.85" width="6.40" height="2.50" rx="1.25" fill="rgb(148,148,148)" filter="url(#bl)"/>
<rect x="26.10" y="463.25" width="8.60" height="3.70" rx="1.85" fill="rgb(48,48,48)" filter="url(#bl)"/>
<rect x="36.43" y="463.05" width="8.60" height="4.10" rx="2.05" fill="rgb(32,32,32)" filter="url(#bl)"/>
<rect x="46.76" y="463.15" width="8.60" height="3.70" rx="1.85" fill="rgb(48,48,48)" filter="url(#bl)"/>
<rect x="57.09" y="463.85" width="8.60" height="2.70" rx="1.35" fill="rgb(72,72,72)" filter="url(#bl)"/>
<rect x="67.42" y="462.35" width="8.60" height="3.70" rx="1.85" fill="rgb(48,48,48)" filter="url(#bl)"/>
<rect x="77.75" y="462.75" width="8.60" height="3.70" rx="1.85" fill="rgb(48,48,48)" filter="url(#bl)"/>
<rect x="88.08" y="463.35" width="8.60" height="3.30" rx="1.65" fill="rgb(62,62,62)" filter="url(#bl)"/>
<rect x="98.41" y="464.15" width="8.60" height="3.30" rx="1.65" fill="rgb(44,44,44)" filter="url(#bl)"/>
<rect x="26.20" y="482.65" width="8.40" height="2.10" rx="1.05" fill="rgb(139,139,139)" filter="url(#bl)"/>
<rect x="36.53" y="480.45" width="8.40" height="4.10" rx="2.05" fill="rgb(32,32,32)" filter="url(#bl)"/>
<rect x="46.86" y="480.85" width="8.40" height="2.70" rx="1.35" fill="rgb(72,72,72)" filter="url(#bl)"/>
<rect x="57.19" y="479.75" width="8.40" height="4.50" rx="2.25" fill="rgb(25,25,25)" filter="url(#bl)"/>
<rect x="67.52" y="479.65" width="8.40" height="3.70" rx="1.85" fill="rgb(48,48,48)" filter="url(#bl)"/>
<rect x="36.98" y="477.20" width="7.50" height="2.00" rx="1.00" fill="rgb(131,131,131)" filter="url(#bl2)"/>
<rect x="57.64" y="477.10" width="7.50" height="2.20" rx="1.10" fill="rgb(107,107,107)" filter="url(#bl2)"/>
<rect x="58.14" y="475.40" width="6.50" height="1.60" rx="0.80" fill="rgb(139,139,139)" filter="url(#bl2)"/>
<rect x="67.97" y="477.00" width="7.50" height="2.00" rx="1.00" fill="rgb(131,131,131)" filter="url(#bl2)"/>
<rect x="24.20" y="491.60" width="85.40" height="11.90" fill="#d6d6d6"/>
<rect x="26.00" y="495.95" width="8.80" height="4.50" rx="2.25" fill="rgb(37,37,37)" filter="url(#bl)"/>
<rect x="36.33" y="495.95" width="8.80" height="4.50" rx="2.25" fill="rgb(37,37,37)" filter="url(#bl)"/>
<rect x="46.66" y="495.95" width="8.80" height="4.50" rx="2.25" fill="rgb(37,37,37)" filter="url(#bl)"/>
<rect x="56.99" y="495.95" width="8.80" height="4.50" rx="2.25" fill="rgb(37,37,37)" filter="url(#bl)"/>
<rect x="67.32" y="496.55" width="8.80" height="4.50" rx="2.25" fill="rgb(37,37,37)" filter="url(#bl)"/>
<rect x="77.65" y="495.95" width="8.80" height="4.50" rx="2.25" fill="rgb(37,37,37)" filter="url(#bl)"/>
<rect x="87.98" y="495.55" width="8.80" height="4.50" rx="2.25" fill="rgb(37,37,37)" filter="url(#bl)"/>
<rect x="98.31" y="495.95" width="8.80" height="4.50" rx="2.25" fill="rgb(37,37,37)" filter="url(#bl)"/>
<line x1="20.90" y1="321.80" x2="23.80" y2="321.80" stroke="#333" stroke-width="0.8"/>
<text x="17.60" y="324.00" font-size="6.4" text-anchor="end" fill="#2a2a2a" stroke="#2a2a2a" stroke-width="0.12" textLength="10.14" lengthAdjust="spacingAndGlyphs">100</text>
<line x1="20.90" y1="331.20" x2="23.80" y2="331.20" stroke="#333" stroke-width="0.8"/>
<text x="17.60" y="333.40" font-size="6.4" text-anchor="end" fill="#2a2a2a" stroke="#2a2a2a" stroke-width="0.12" textLength="6.76" lengthAdjust="spacingAndGlyphs">70</text>
<line x1="20.90" y1="345.50" x2="23.80" y2="345.50" stroke="#333" stroke-width="0.8"/>
<text x="17.60" y="347.70" font-size="6.4" text-anchor="end" fill="#2a2a2a" stroke="#2a2a2a" stroke-width="0.12" textLength="6.76" lengthAdjust="spacingAndGlyphs">55</text>
<line x1="20.90" y1="357.30" x2="23.80" y2="357.30" stroke="#333" stroke-width="0.8"/>
<text x="17.60" y="359.50" font-size="6.4" text-anchor="end" fill="#2a2a2a" stroke="#2a2a2a" stroke-width="0.12" textLength="10.14" lengthAdjust="spacingAndGlyphs">130</text>
<line x1="20.90" y1="401.00" x2="23.80" y2="401.00" stroke="#333" stroke-width="0.8"/>
<text x="17.60" y="403.20" font-size="6.4" text-anchor="end" fill="#2a2a2a" stroke="#2a2a2a" stroke-width="0.12" textLength="6.76" lengthAdjust="spacingAndGlyphs">55</text>
<line x1="20.90" y1="412.40" x2="23.80" y2="412.40" stroke="#333" stroke-width="0.8"/>
<text x="17.60" y="414.60" font-size="6.4" text-anchor="end" fill="#2a2a2a" stroke="#2a2a2a" stroke-width="0.12" textLength="10.14" lengthAdjust="spacingAndGlyphs">100</text>
<line x1="20.90" y1="430.80" x2="23.80" y2="430.80" stroke="#333" stroke-width="0.8"/>
<text x="17.60" y="433.00" font-size="6.4" text-anchor="end" fill="#2a2a2a" stroke="#2a2a2a" stroke-width="0.12" textLength="6.76" lengthAdjust="spacingAndGlyphs">70</text>
<line x1="20.90" y1="437.30" x2="23.80" y2="437.30" stroke="#333" stroke-width="0.8"/>
<text x="17.60" y="439.50" font-size="6.4" text-anchor="end" fill="#2a2a2a" stroke="#2a2a2a" stroke-width="0.12" textLength="6.76" lengthAdjust="spacingAndGlyphs">70</text>
<line x1="20.90" y1="488.50" x2="23.80" y2="488.50" stroke="#333" stroke-width="0.8"/>
<text x="17.60" y="490.70" font-size="6.4" text-anchor="end" fill="#2a2a2a" stroke="#2a2a2a" stroke-width="0.12" textLength="6.76" lengthAdjust="spacingAndGlyphs">35</text>
<line x1="20.90" y1="500.30" x2="23.80" y2="500.30" stroke="#333" stroke-width="0.8"/>
<text x="17.60" y="502.50" font-size="6.4" text-anchor="end" fill="#2a2a2a" stroke="#2a2a2a" stroke-width="0.12" textLength="6.76" lengthAdjust="spacingAndGlyphs">40</text>
<text x="114.10" y="320.30" font-size="6.8" fill="#333" stroke="#333" stroke-width="0.12" textLength="20.34" lengthAdjust="spacingAndGlyphs">MALT1</text>
<text x="114.10" y="334.40" font-size="6.8" fill="#333" stroke="#333" stroke-width="0.12" textLength="31.60" lengthAdjust="spacingAndGlyphs">Regnase-1</text>
<text x="114.10" y="348.30" font-size="6.8" fill="#333" stroke="#333" stroke-width="0.12" textLength="38.42" lengthAdjust="spacingAndGlyphs">Regnase-1 ct</text>
<text x="114.10" y="360.60" font-size="6.8" fill="#333" stroke="#333" stroke-width="0.12" textLength="31.60" lengthAdjust="spacingAndGlyphs">Roquin-1/2</text>
<text x="114.10" y="400.60" font-size="6.8" fill="#333" stroke="#333" stroke-width="0.12" textLength="38.42" lengthAdjust="spacingAndGlyphs">Roquin-1/2 ct</text>
<text x="113.30" y="418.70" font-size="6.6" fill="#333" stroke="#333" stroke-width="0.12" textLength="3.49" lengthAdjust="spacingAndGlyphs">L</text>
<text x="113.30" y="426.90" font-size="6.6" fill="#333" stroke="#333" stroke-width="0.12" textLength="4.18" lengthAdjust="spacingAndGlyphs">S</text>
<text x="117.90" y="422.80" font-size="6.6" fill="#333" stroke="#333" stroke-width="0.12" textLength="12.80" lengthAdjust="spacingAndGlyphs">IκBζ</text>
<line x1="113.80" y1="443.80" x2="119.40" y2="443.80" stroke="#333" stroke-width="0.9"/>
<text x="120.80" y="444.00" font-size="6.8" fill="#333" stroke="#333" stroke-width="0.12" textLength="17.60" lengthAdjust="spacingAndGlyphs">IκBNS</text>
<text x="120.80" y="449.20" font-size="6.8" fill="#333" stroke="#333" stroke-width="0.12" textLength="10.60" lengthAdjust="spacingAndGlyphs">p70</text>
<circle cx="114.70" cy="447.50" r="0.95" fill="#333"/>
<circle cx="114.70" cy="466.00" r="0.95" fill="#333"/>
<line x1="113.80" y1="481.60" x2="119.40" y2="481.60" stroke="#333" stroke-width="0.9"/>
<text x="120.80" y="481.80" font-size="6.8" fill="#333" stroke="#333" stroke-width="0.12" textLength="17.60" lengthAdjust="spacingAndGlyphs">IκBNS</text>
<text x="120.80" y="486.90" font-size="6.8" fill="#333" stroke="#333" stroke-width="0.12" textLength="10.60" lengthAdjust="spacingAndGlyphs">p35</text>
<text x="113.80" y="501.00" font-size="6.8" fill="#333" stroke="#333" stroke-width="0.12" textLength="20.23" lengthAdjust="spacingAndGlyphs">β-Actin</text>
<text x="165.10" y="262.80" font-size="10.6" font-weight="bold" fill="#000" stroke="#000" stroke-width="0.3" textLength="7.80" lengthAdjust="spacingAndGlyphs">D</text>
<text x="226.30" y="258.90" font-size="6.6" fill="#333" stroke="#333" stroke-width="0.12" textLength="33.50" lengthAdjust="spacingAndGlyphs">ABC DLBCL</text>
<line x1="194.60" y1="263.60" x2="291.00" y2="263.60" stroke="#333" stroke-width="0.9"/>
<line x1="199.40" y1="292.60" x2="211.00" y2="292.60" stroke="#333" stroke-width="1.0"/>
<line x1="222.00" y1="292.60" x2="233.50" y2="292.60" stroke="#333" stroke-width="1.0"/>
<line x1="240.80" y1="292.60" x2="252.30" y2="292.60" stroke="#333" stroke-width="1.0"/>
<line x1="260.20" y1="292.60" x2="271.30" y2="292.60" stroke="#333" stroke-width="1.0"/>
<line x1="278.50" y1="292.60" x2="290.40" y2="292.60" stroke="#333" stroke-width="1.0"/>
<text x="206.40" y="289.00" font-size="7.0" fill="#2a2a2a" stroke="#2a2a2a" stroke-width="0.12" textLength="28.21" lengthAdjust="spacingAndGlyphs" transform="rotate(-45 206.40 289.00)">OCI-Ly10</text>
<text x="229.20" y="289.00" font-size="7.0" fill="#2a2a2a" stroke="#2a2a2a" stroke-width="0.12" textLength="16.63" lengthAdjust="spacingAndGlyphs" transform="rotate(-45 229.20 289.00)">HBL1</text>
<text x="247.60" y="289.00" font-size="7.0" fill="#2a2a2a" stroke="#2a2a2a" stroke-width="0.12" textLength="18.10" lengthAdjust="spacingAndGlyphs" transform="rotate(-45 247.60 289.00)">TMD8</text>
<text x="266.80" y="289.00" font-size="7.0" fill="#2a2a2a" stroke="#2a2a2a" stroke-width="0.12" textLength="24.51" lengthAdjust="spacingAndGlyphs" transform="rotate(-45 266.80 289.00)">OCI-Ly3</text>
<text x="286.00" y="289.00" font-size="7.0" fill="#2a2a2a" stroke="#2a2a2a" stroke-width="0.12" textLength="19.59" lengthAdjust="spacingAndGlyphs" transform="rotate(-45 286.00 289.00)">U2932</text>
<line x1="197.40" y1="298.80" x2="200.40" y2="298.80" stroke="#333" stroke-width="0.7"/>
<line x1="206.60" y1="298.80" x2="209.80" y2="298.80" stroke="#333" stroke-width="0.7"/>
<line x1="208.20" y1="297.20" x2="208.20" y2="300.40" stroke="#333" stroke-width="0.7"/>
<line x1="219.10" y1="298.80" x2="222.10" y2="298.80" stroke="#333" stroke-width="0.7"/>
<line x1="228.36" y1="298.80" x2="231.56" y2="298.80" stroke="#333" stroke-width="0.7"/>
<line x1="229.96" y1="297.20" x2="229.96" y2="300.40" stroke="#333" stroke-width="0.7"/>
<line x1="237.82" y1="298.80" x2="240.82" y2="298.80" stroke="#333" stroke-width="0.7"/>
<line x1="247.08" y1="298.80" x2="250.28" y2="298.80" stroke="#333" stroke-width="0.7"/>
<line x1="248.68" y1="297.20" x2="248.68" y2="300.40" stroke="#333" stroke-width="0.7"/>
<line x1="256.54" y1="298.80" x2="259.54" y2="298.80" stroke="#333" stroke-width="0.7"/>
<line x1="265.80" y1="298.80" x2="269.00" y2="298.80" stroke="#333" stroke-width="0.7"/>
<line x1="267.40" y1="297.20" x2="267.40" y2="300.40" stroke="#333" stroke-width="0.7"/>
<line x1="275.26" y1="298.80" x2="278.26" y2="298.80" stroke="#333" stroke-width="0.7"/>
<line x1="284.52" y1="298.80" x2="287.72" y2="298.80" stroke="#333" stroke-width="0.7"/>
<line x1="286.12" y1="297.20" x2="286.12" y2="300.40" stroke="#333" stroke-width="0.7"/>
<text x="294.80" y="301.10" font-size="6.6" fill="#333" stroke="#333" stroke-width="0.12" textLength="24.00" lengthAdjust="spacingAndGlyphs">ibrutinib</text>
<text x="177.00" y="305.20" font-size="6.2" fill="#333" stroke="#333" stroke-width="0.12" textLength="11.50" lengthAdjust="spacingAndGlyphs">kDa</text>
<rect x="194.20" y="305.80" width="18.70" height="24.90" fill="#cbcbcb"/>
<rect x="215.20" y="305.80" width="75.40" height="24.90" fill="#d6d6d6"/>
<rect x="217.10" y="306.60" width="7.00" height="23.30" fill="#cecece" filter="url(#bl2)"/>
<rect x="226.46" y="306.60" width="7.00" height="23.30" fill="#cecece" filter="url(#bl2)"/>
<rect x="235.82" y="306.60" width="7.00" height="23.30" fill="#cecece" filter="url(#bl2)"/>
<rect x="245.18" y="306.60" width="7.00" height="23.30" fill="#cecece" filter="url(#bl2)"/>
<rect x="254.54" y="306.60" width="7.00" height="23.30" fill="#cecece" filter="url(#bl2)"/>
<rect x="263.90" y="306.60" width="7.00" height="23.30" fill="#cecece" filter="url(#bl2)"/>
<rect x="273.26" y="306.60" width="7.00" height="23.30" fill="#cecece" filter="url(#bl2)"/>
<rect x="282.62" y="306.60" width="7.00" height="23.30" fill="#cecece" filter="url(#bl2)"/>
<rect x="195.70" y="309.70" width="6.40" height="2.00" rx="1.00" fill="rgb(163,163,163)" filter="url(#bl2)"/>
<rect x="272.76" y="311.05" width="8.00" height="4.30" rx="2.15" fill="rgb(118,118,118)" filter="url(#bl)"/>
<rect x="282.12" y="311.05" width="8.00" height="4.30" rx="2.15" fill="rgb(101,101,101)" filter="url(#bl)"/>
<rect x="272.66" y="321.95" width="8.20" height="4.30" rx="2.15" fill="rgb(1,1,1)" filter="url(#bl)"/>
<rect x="195.30" y="321.95" width="7.20" height="3.10" rx="1.55" fill="rgb(169,169,169)" filter="url(#bl)"/>
<rect x="217.00" y="319.25" width="7.20" height="3.10" rx="1.55" fill="rgb(185,185,185)" filter="url(#bl)"/>
<rect x="235.72" y="321.65" width="7.20" height="3.10" rx="1.55" fill="rgb(176,176,176)" filter="url(#bl)"/>
<rect x="254.44" y="321.95" width="7.20" height="3.10" rx="1.55" fill="rgb(191,191,191)" filter="url(#bl)"/>
<rect x="263.80" y="321.95" width="7.20" height="3.10" rx="1.55" fill="rgb(187,187,187)" filter="url(#bl)"/>
<rect x="282.52" y="322.55" width="7.20" height="3.10" rx="1.55" fill="rgb(176,176,176)" filter="url(#bl)"/>
<rect x="194.20" y="332.40" width="18.70" height="66.10" fill="#c8c8c8"/>
<rect x="215.20" y="332.40" width="75.40" height="66.10" fill="#e2e2e2"/>
<rect x="195.40" y="333.20" width="7.00" height="64.50" fill="#c0c0c0" filter="url(#bl2)"/>
<rect x="204.70" y="333.20" width="7.00" height="64.50" fill="#c0c0c0" filter="url(#bl2)"/>
<rect x="194.80" y="335.85" width="8.20" height="4.30" rx="2.15" fill="rgb(67,67,67)" filter="url(#bl)"/>
<rect x="204.40" y="336.35" width="7.60" height="3.30" rx="1.65" fill="rgb(133,133,133)" filter="url(#bl)"/>
<rect x="216.90" y="338.95" width="7.40" height="3.30" rx="1.65" fill="rgb(202,202,202)" filter="url(#bl)"/>
<rect x="226.26" y="338.95" width="7.40" height="3.30" rx="1.65" fill="rgb(188,188,188)" filter="url(#bl)"/>
<rect x="235.62" y="338.95" width="7.40" height="3.30" rx="1.65" fill="rgb(186,186,186)" filter="url(#bl)"/>
<rect x="244.98" y="338.95" width="7.40" height="3.30" rx="1.65" fill="rgb(169,169,169)" filter="url(#bl)"/>
<rect x="254.34" y="338.95" width="7.40" height="3.30" rx="1.65" fill="rgb(169,169,169)" filter="url(#bl)"/>
<rect x="263.70" y="338.95" width="7.40" height="3.30" rx="1.65" fill="rgb(169,169,169)" filter="url(#bl)"/>
<rect x="273.06" y="338.95" width="7.40" height="3.30" rx="1.65" fill="rgb(175,175,175)" filter="url(#bl)"/>
<rect x="282.42" y="338.95" width="7.40" height="3.30" rx="1.65" fill="rgb(154,154,154)" filter="url(#bl)"/>
<rect x="195.40" y="353.80" width="7.00" height="2.40" rx="1.20" fill="rgb(114,114,114)" filter="url(#bl2)"/>
<rect x="204.70" y="353.90" width="7.00" height="2.20" rx="1.10" fill="rgb(137,137,137)" filter="url(#bl2)"/>
<rect x="195.90" y="368.00" width="6.00" height="8.00" rx="3.00" fill="rgb(188,188,188)" filter="url(#bl2)"/>
<rect x="205.20" y="368.00" width="6.00" height="8.00" rx="3.00" fill="rgb(188,188,188)" filter="url(#bl2)"/>
<rect x="194.50" y="386.65" width="8.80" height="7.10" rx="3.55" fill="rgb(30,30,30)" filter="url(#bl)"/>
<rect x="204.10" y="387.05" width="8.20" height="4.30" rx="2.15" fill="rgb(84,84,84)" filter="url(#bl)"/>
<rect x="216.40" y="384.75" width="8.40" height="4.30" rx="2.15" fill="rgb(50,50,50)" filter="url(#bl)"/>
<rect x="216.90" y="388.65" width="7.40" height="2.70" rx="1.35" fill="rgb(128,128,128)" filter="url(#bl)"/>
<rect x="226.16" y="383.75" width="7.60" height="3.30" rx="1.65" fill="rgb(98,98,98)" filter="url(#bl)"/>
<rect x="235.12" y="385.35" width="8.40" height="4.70" rx="2.35" fill="rgb(33,33,33)" filter="url(#bl)"/>
<rect x="235.52" y="389.35" width="7.60" height="2.90" rx="1.45" fill="rgb(112,112,112)" filter="url(#bl)"/>
<rect x="244.98" y="386.65" width="7.40" height="3.30" rx="1.65" fill="rgb(151,151,151)" filter="url(#bl)"/>
<rect x="253.34" y="384.45" width="9.40" height="8.50" rx="4.25" fill="rgb(22,22,22)" filter="url(#bl)"/>
<rect x="262.70" y="384.45" width="9.40" height="8.50" rx="4.25" fill="rgb(22,22,22)" filter="url(#bl)"/>
<rect x="254.54" y="379.00" width="7.00" height="4.00" rx="2.00" fill="rgb(184,184,184)" filter="url(#bl2)"/>
<rect x="263.90" y="379.00" width="7.00" height="4.00" rx="2.00" fill="rgb(184,184,184)" filter="url(#bl2)"/>
<rect x="272.66" y="385.75" width="8.20" height="3.90" rx="1.95" fill="rgb(49,49,49)" filter="url(#bl)"/>
<rect x="282.42" y="386.65" width="7.40" height="3.30" rx="1.65" fill="rgb(151,151,151)" filter="url(#bl)"/>
<rect x="194.20" y="401.30" width="18.70" height="27.10" fill="#c8c8c8"/>
<rect x="215.20" y="401.30" width="75.40" height="27.10" fill="#e1e1e1"/>
<rect x="194.60" y="402.75" width="8.60" height="8.30" rx="4.15" fill="rgb(51,51,51)" filter="url(#bl)"/>
<rect x="204.40" y="404.95" width="7.60" height="3.50" rx="1.75" fill="rgb(169,169,169)" filter="url(#bl)"/>
<rect x="195.40" y="411.50" width="7.00" height="5.00" rx="2.50" fill="rgb(166,166,166)" filter="url(#bl2)"/>
<rect x="218.30" y="404.35" width="6.60" height="3.30" rx="1.65" fill="rgb(151,151,151)" filter="url(#bl)"/>
<rect x="235.82" y="408.55" width="7.00" height="2.90" rx="1.45" fill="rgb(167,167,167)" filter="url(#bl)"/>
<rect x="235.12" y="414.15" width="8.40" height="5.10" rx="2.55" fill="rgb(34,34,34)" filter="url(#bl)"/>
<rect x="244.98" y="415.25" width="7.40" height="3.90" rx="1.95" fill="rgb(83,83,83)" filter="url(#bl)"/>
<rect x="254.34" y="409.25" width="7.40" height="3.50" rx="1.75" fill="rgb(134,134,134)" filter="url(#bl)"/>
<rect x="263.70" y="409.25" width="7.40" height="3.50" rx="1.75" fill="rgb(136,136,136)" filter="url(#bl)"/>
<rect x="194.20" y="431.80" width="18.70" height="58.70" fill="#bfbfbf"/>
<rect x="215.20" y="431.80" width="75.40" height="58.70" fill="#e1e1e1"/>
<rect x="194.50" y="437.35" width="8.80" height="6.30" rx="3.15" fill="rgb(42,42,42)" filter="url(#bl)"/>
<rect x="204.20" y="438.95" width="8.00" height="3.90" rx="1.95" fill="rgb(83,83,83)" filter="url(#bl)"/>
<rect x="216.50" y="435.75" width="8.20" height="3.10" rx="1.55" fill="rgb(42,42,42)" filter="url(#bl)"/>
<rect x="216.50" y="438.65" width="8.20" height="3.10" rx="1.55" fill="rgb(78,78,78)" filter="url(#bl)"/>
<rect x="226.16" y="438.35" width="7.60" height="4.30" rx="2.15" fill="rgb(84,84,84)" filter="url(#bl)"/>
<rect x="235.32" y="438.05" width="8.00" height="4.90" rx="2.45" fill="rgb(102,102,102)" filter="url(#bl)"/>
<rect x="244.88" y="439.65" width="7.60" height="3.70" rx="1.85" fill="rgb(100,100,100)" filter="url(#bl)"/>
<rect x="253.74" y="437.05" width="8.60" height="6.90" rx="3.45" fill="rgb(51,51,51)" filter="url(#bl)"/>
<rect x="263.10" y="437.05" width="8.60" height="6.90" rx="3.45" fill="rgb(68,68,68)" filter="url(#bl)"/>
<rect x="272.46" y="436.55" width="8.60" height="5.30" rx="2.65" fill="rgb(34,34,34)" filter="url(#bl)"/>
<rect x="273.96" y="442.95" width="2.60" height="2.70" rx="1.30" fill="rgb(14,14,14)" filter="url(#bl)"/>
<rect x="282.62" y="439.85" width="7.00" height="3.30" rx="1.65" fill="rgb(168,168,168)" filter="url(#bl)"/>
<rect x="194.60" y="460.85" width="8.60" height="4.30" rx="2.15" fill="rgb(41,41,41)" filter="url(#bl)"/>
<rect x="203.90" y="460.85" width="8.60" height="4.30" rx="2.15" fill="rgb(57,57,57)" filter="url(#bl)"/>
<rect x="216.30" y="460.85" width="8.60" height="4.30" rx="2.15" fill="rgb(41,41,41)" filter="url(#bl)"/>
<rect x="225.66" y="460.85" width="8.60" height="4.30" rx="2.15" fill="rgb(41,41,41)" filter="url(#bl)"/>
<rect x="235.02" y="460.85" width="8.60" height="4.30" rx="2.15" fill="rgb(41,41,41)" filter="url(#bl)"/>
<rect x="244.38" y="460.85" width="8.60" height="4.30" rx="2.15" fill="rgb(41,41,41)" filter="url(#bl)"/>
<rect x="253.74" y="460.85" width="8.60" height="4.30" rx="2.15" fill="rgb(41,41,41)" filter="url(#bl)"/>
<rect x="263.10" y="460.85" width="8.60" height="4.30" rx="2.15" fill="rgb(41,41,41)" filter="url(#bl)"/>
<rect x="272.46" y="460.35" width="8.60" height="4.30" rx="2.15" fill="rgb(41,41,41)" filter="url(#bl)"/>
<rect x="281.82" y="460.85" width="8.60" height="4.30" rx="2.15" fill="rgb(41,41,41)" filter="url(#bl)"/>
<rect x="234.52" y="483.05" width="6.60" height="2.70" rx="1.35" fill="rgb(184,184,184)" filter="url(#bl)"/>
<rect x="253.24" y="483.05" width="6.60" height="2.70" rx="1.35" fill="rgb(160,160,160)" filter="url(#bl)"/>
<rect x="262.60" y="483.05" width="6.60" height="2.70" rx="1.35" fill="rgb(155,155,155)" filter="url(#bl)"/>
<rect x="271.96" y="483.05" width="6.60" height="2.70" rx="1.35" fill="rgb(166,166,166)" filter="url(#bl)"/>
<rect x="217.60" y="481.05" width="4.00" height="2.70" rx="1.35" fill="rgb(146,146,146)" filter="url(#bl)"/>
<rect x="195.90" y="466.00" width="6.00" height="2.00" rx="1.00" fill="rgb(129,129,129)" filter="url(#bl2)"/>
<rect x="194.20" y="492.00" width="18.70" height="13.50" fill="#c2c2c2"/>
<rect x="215.20" y="492.00" width="75.40" height="13.50" fill="#d8d8d8"/>
<rect x="194.50" y="495.05" width="8.80" height="4.30" rx="2.15" fill="rgb(50,50,50)" filter="url(#bl)"/>
<rect x="203.80" y="495.05" width="8.80" height="4.30" rx="2.15" fill="rgb(57,57,57)" filter="url(#bl)"/>
<rect x="216.10" y="493.45" width="9.00" height="4.90" rx="2.45" fill="rgb(17,17,17)" filter="url(#bl)"/>
<rect x="225.46" y="495.75" width="9.00" height="5.30" rx="2.65" fill="rgb(26,26,26)" filter="url(#bl)"/>
<rect x="234.82" y="495.75" width="9.00" height="5.30" rx="2.65" fill="rgb(26,26,26)" filter="url(#bl)"/>
<rect x="244.18" y="495.75" width="9.00" height="5.30" rx="2.65" fill="rgb(26,26,26)" filter="url(#bl)"/>
<rect x="253.54" y="495.75" width="9.00" height="5.30" rx="2.65" fill="rgb(26,26,26)" filter="url(#bl)"/>
<rect x="262.90" y="495.75" width="9.00" height="5.30" rx="2.65" fill="rgb(26,26,26)" filter="url(#bl)"/>
<rect x="272.26" y="495.75" width="9.00" height="5.30" rx="2.65" fill="rgb(26,26,26)" filter="url(#bl)"/>
<rect x="281.62" y="495.75" width="9.00" height="5.30" rx="2.65" fill="rgb(26,26,26)" filter="url(#bl)"/>
<line x1="190.80" y1="312.40" x2="193.40" y2="312.40" stroke="#333" stroke-width="0.8"/>
<text x="188.30" y="314.60" font-size="6.4" text-anchor="end" fill="#2a2a2a" stroke="#2a2a2a" stroke-width="0.12" textLength="6.76" lengthAdjust="spacingAndGlyphs">70</text>
<line x1="190.80" y1="324.60" x2="193.40" y2="324.60" stroke="#333" stroke-width="0.8"/>
<text x="188.30" y="326.80" font-size="6.4" text-anchor="end" fill="#2a2a2a" stroke="#2a2a2a" stroke-width="0.12" textLength="6.76" lengthAdjust="spacingAndGlyphs">55</text>
<line x1="190.80" y1="342.50" x2="193.40" y2="342.50" stroke="#333" stroke-width="0.8"/>
<text x="188.30" y="344.70" font-size="6.4" text-anchor="end" fill="#2a2a2a" stroke="#2a2a2a" stroke-width="0.12" textLength="10.14" lengthAdjust="spacingAndGlyphs">130</text>
<line x1="190.80" y1="391.30" x2="193.40" y2="391.30" stroke="#333" stroke-width="0.8"/>
<text x="188.30" y="393.50" font-size="6.4" text-anchor="end" fill="#2a2a2a" stroke="#2a2a2a" stroke-width="0.12" textLength="6.76" lengthAdjust="spacingAndGlyphs">55</text>
<line x1="190.80" y1="404.50" x2="193.40" y2="404.50" stroke="#333" stroke-width="0.8"/>
<text x="188.30" y="406.70" font-size="6.4" text-anchor="end" fill="#2a2a2a" stroke="#2a2a2a" stroke-width="0.12" textLength="10.14" lengthAdjust="spacingAndGlyphs">100</text>
<line x1="190.80" y1="420.00" x2="193.40" y2="420.00" stroke="#333" stroke-width="0.8"/>
<text x="188.30" y="422.20" font-size="6.4" text-anchor="end" fill="#2a2a2a" stroke="#2a2a2a" stroke-width="0.12" textLength="6.76" lengthAdjust="spacingAndGlyphs">70</text>
<line x1="190.80" y1="432.50" x2="193.40" y2="432.50" stroke="#333" stroke-width="0.8"/>
<text x="188.30" y="434.70" font-size="6.4" text-anchor="end" fill="#2a2a2a" stroke="#2a2a2a" stroke-width="0.12" textLength="6.76" lengthAdjust="spacingAndGlyphs">70</text>
<line x1="190.80" y1="485.00" x2="193.40" y2="485.00" stroke="#333" stroke-width="0.8"/>
<text x="188.30" y="487.20" font-size="6.4" text-anchor="end" fill="#2a2a2a" stroke="#2a2a2a" stroke-width="0.12" textLength="6.76" lengthAdjust="spacingAndGlyphs">35</text>
<line x1="190.80" y1="499.50" x2="193.40" y2="499.50" stroke="#333" stroke-width="0.8"/>
<text x="188.30" y="501.70" font-size="6.4" text-anchor="end" fill="#2a2a2a" stroke="#2a2a2a" stroke-width="0.12" textLength="6.76" lengthAdjust="spacingAndGlyphs">40</text>
<text x="294.90" y="315.50" font-size="6.8" fill="#333" stroke="#333" stroke-width="0.12" textLength="31.60" lengthAdjust="spacingAndGlyphs">Regnase-1</text>
<text x="294.90" y="326.10" font-size="6.8" fill="#333" stroke="#333" stroke-width="0.12" textLength="38.42" lengthAdjust="spacingAndGlyphs">Regnase-1 ct</text>
<text x="294.90" y="342.60" font-size="6.8" fill="#333" stroke="#333" stroke-width="0.12" textLength="31.60" lengthAdjust="spacingAndGlyphs">Roquin-1/2</text>
<text x="294.90" y="390.80" font-size="6.8" fill="#333" stroke="#333" stroke-width="0.12" textLength="38.42" lengthAdjust="spacingAndGlyphs">Roquin-1/2 ct</text>
<text x="295.70" y="413.60" font-size="6.6" fill="#333" stroke="#333" stroke-width="0.12" textLength="3.49" lengthAdjust="spacingAndGlyphs">L</text>
<text x="295.70" y="420.80" font-size="6.6" fill="#333" stroke="#333" stroke-width="0.12" textLength="4.18" lengthAdjust="spacingAndGlyphs">S</text>
<text x="300.70" y="417.00" font-size="6.6" fill="#333" stroke="#333" stroke-width="0.12" textLength="12.80" lengthAdjust="spacingAndGlyphs">IκBζ</text>
<line x1="297.00" y1="439.00" x2="302.60" y2="439.00" stroke="#333" stroke-width="0.9"/>
<text x="304.10" y="439.20" font-size="6.8" fill="#333" stroke="#333" stroke-width="0.12" textLength="17.60" lengthAdjust="spacingAndGlyphs">IκBNS</text>
<text x="304.10" y="444.40" font-size="6.8" fill="#333" stroke="#333" stroke-width="0.12" textLength="10.60" lengthAdjust="spacingAndGlyphs">p70</text>
<circle cx="297.90" cy="442.70" r="0.95" fill="#333"/>
<circle cx="297.90" cy="463.60" r="0.95" fill="#333"/>
<line x1="297.00" y1="484.30" x2="302.60" y2="484.30" stroke="#333" stroke-width="0.9"/>
<text x="304.10" y="484.50" font-size="6.8" fill="#333" stroke="#333" stroke-width="0.12" textLength="17.60" lengthAdjust="spacingAndGlyphs">IκBNS</text>
<text x="304.10" y="489.60" font-size="6.8" fill="#333" stroke="#333" stroke-width="0.12" textLength="10.60" lengthAdjust="spacingAndGlyphs">p35</text>
<text x="294.30" y="501.10" font-size="6.8" fill="#333" stroke="#333" stroke-width="0.12" textLength="20.23" lengthAdjust="spacingAndGlyphs">β-Actin</text>
<text x="346.10" y="262.80" font-size="10.6" font-weight="bold" fill="#000" stroke="#000" stroke-width="0.3" textLength="6.00" lengthAdjust="spacingAndGlyphs">E</text>
<text x="406.30" y="258.90" font-size="6.6" fill="#333" stroke="#333" stroke-width="0.12" textLength="33.50" lengthAdjust="spacingAndGlyphs">ABC DLBCL</text>
<line x1="374.60" y1="263.60" x2="471.50" y2="263.60" stroke="#333" stroke-width="0.9"/>
<line x1="378.50" y1="292.60" x2="390.20" y2="292.60" stroke="#333" stroke-width="1.0"/>
<line x1="401.30" y1="292.60" x2="412.40" y2="292.60" stroke="#333" stroke-width="1.0"/>
<line x1="419.50" y1="292.60" x2="431.60" y2="292.60" stroke="#333" stroke-width="1.0"/>
<line x1="438.70" y1="292.60" x2="450.40" y2="292.60" stroke="#333" stroke-width="1.0"/>
<line x1="457.80" y1="292.60" x2="469.40" y2="292.60" stroke="#333" stroke-width="1.0"/>
<text x="385.80" y="289.00" font-size="7.0" fill="#2a2a2a" stroke="#2a2a2a" stroke-width="0.12" textLength="28.21" lengthAdjust="spacingAndGlyphs" transform="rotate(-45 385.80 289.00)">OCI-Ly10</text>
<text x="408.20" y="289.00" font-size="7.0" fill="#2a2a2a" stroke="#2a2a2a" stroke-width="0.12" textLength="16.63" lengthAdjust="spacingAndGlyphs" transform="rotate(-45 408.20 289.00)">HBL1</text>
<text x="427.00" y="289.00" font-size="7.0" fill="#2a2a2a" stroke="#2a2a2a" stroke-width="0.12" textLength="18.10" lengthAdjust="spacingAndGlyphs" transform="rotate(-45 427.00 289.00)">TMD8</text>
<text x="446.00" y="289.00" font-size="7.0" fill="#2a2a2a" stroke="#2a2a2a" stroke-width="0.12" textLength="24.51" lengthAdjust="spacingAndGlyphs" transform="rotate(-45 446.00 289.00)">OCI-Ly3</text>
<text x="465.20" y="289.00" font-size="7.0" fill="#2a2a2a" stroke="#2a2a2a" stroke-width="0.12" textLength="19.59" lengthAdjust="spacingAndGlyphs" transform="rotate(-45 465.20 289.00)">U2932</text>
<line x1="377.00" y1="299.40" x2="380.00" y2="299.40" stroke="#333" stroke-width="0.7"/>
<line x1="386.00" y1="299.40" x2="389.20" y2="299.40" stroke="#333" stroke-width="0.7"/>
<line x1="387.60" y1="297.80" x2="387.60" y2="301.00" stroke="#333" stroke-width="0.7"/>
<line x1="398.40" y1="299.40" x2="401.40" y2="299.40" stroke="#333" stroke-width="0.7"/>
<line x1="407.60" y1="299.40" x2="410.80" y2="299.40" stroke="#333" stroke-width="0.7"/>
<line x1="409.20" y1="297.80" x2="409.20" y2="301.00" stroke="#333" stroke-width="0.7"/>
<line x1="417.00" y1="299.40" x2="420.00" y2="299.40" stroke="#333" stroke-width="0.7"/>
<line x1="426.20" y1="299.40" x2="429.40" y2="299.40" stroke="#333" stroke-width="0.7"/>
<line x1="427.80" y1="297.80" x2="427.80" y2="301.00" stroke="#333" stroke-width="0.7"/>
<line x1="435.60" y1="299.40" x2="438.60" y2="299.40" stroke="#333" stroke-width="0.7"/>
<line x1="444.80" y1="299.40" x2="448.00" y2="299.40" stroke="#333" stroke-width="0.7"/>
<line x1="446.40" y1="297.80" x2="446.40" y2="301.00" stroke="#333" stroke-width="0.7"/>
<line x1="454.20" y1="299.40" x2="457.20" y2="299.40" stroke="#333" stroke-width="0.7"/>
<line x1="463.40" y1="299.40" x2="466.60" y2="299.40" stroke="#333" stroke-width="0.7"/>
<line x1="465.00" y1="297.80" x2="465.00" y2="301.00" stroke="#333" stroke-width="0.7"/>
<text x="474.80" y="301.10" font-size="6.6" fill="#333" stroke="#333" stroke-width="0.12" textLength="24.00" lengthAdjust="spacingAndGlyphs">MLT-748</text>
<text x="355.40" y="305.20" font-size="6.2" fill="#333" stroke="#333" stroke-width="0.12" textLength="11.50" lengthAdjust="spacingAndGlyphs">kDa</text>
<rect x="373.80" y="305.60" width="18.00" height="28.60" fill="#cdcdcd"/>
<rect x="393.80" y="305.60" width="77.00" height="28.60" fill="#d6d6d6"/>
<rect x="396.40" y="306.40" width="7.00" height="27.00" fill="#cdcdcd" filter="url(#bl2)"/>
<rect x="405.70" y="306.40" width="7.00" height="27.00" fill="#cdcdcd" filter="url(#bl2)"/>
<rect x="415.00" y="306.40" width="7.00" height="27.00" fill="#cdcdcd" filter="url(#bl2)"/>
<rect x="424.30" y="306.40" width="7.00" height="27.00" fill="#cdcdcd" filter="url(#bl2)"/>
<rect x="433.60" y="306.40" width="7.00" height="27.00" fill="#cdcdcd" filter="url(#bl2)"/>
<rect x="442.90" y="306.40" width="7.00" height="27.00" fill="#cdcdcd" filter="url(#bl2)"/>
<rect x="452.20" y="306.40" width="7.00" height="27.00" fill="#cdcdcd" filter="url(#bl2)"/>
<rect x="461.50" y="306.40" width="7.00" height="27.00" fill="#cdcdcd" filter="url(#bl2)"/>
<rect x="374.70" y="322.85" width="7.60" height="3.50" rx="1.75" fill="rgb(147,147,147)" filter="url(#bl)"/>
<rect x="375.50" y="329.80" width="6.00" height="2.00" rx="1.00" fill="rgb(149,149,149)" filter="url(#bl2)"/>
<rect x="396.60" y="322.65" width="6.60" height="2.70" rx="1.35" fill="rgb(181,181,181)" filter="url(#bl)"/>
<rect x="414.70" y="323.25" width="7.60" height="3.50" rx="1.75" fill="rgb(134,134,134)" filter="url(#bl)"/>
<rect x="433.50" y="325.65" width="7.20" height="3.10" rx="1.55" fill="rgb(150,150,150)" filter="url(#bl)"/>
<rect x="451.90" y="313.75" width="7.60" height="3.30" rx="1.65" fill="rgb(137,137,137)" filter="url(#bl)"/>
<rect x="461.10" y="312.95" width="7.80" height="3.70" rx="1.85" fill="rgb(110,110,110)" filter="url(#bl)"/>
<rect x="451.50" y="325.65" width="8.40" height="4.30" rx="2.15" fill="rgb(3,3,3)" filter="url(#bl)"/>
<rect x="461.50" y="326.45" width="7.00" height="2.90" rx="1.45" fill="rgb(179,179,179)" filter="url(#bl)"/>
<rect x="373.80" y="335.20" width="18.00" height="68.60" fill="#cdcdcd"/>
<rect x="393.80" y="335.20" width="77.00" height="68.60" fill="#dadada"/>
<rect x="374.50" y="340.95" width="8.00" height="3.50" rx="1.75" fill="rgb(81,81,81)" filter="url(#bl)"/>
<rect x="383.90" y="341.45" width="7.40" height="3.10" rx="1.55" fill="rgb(132,132,132)" filter="url(#bl)"/>
<rect x="396.10" y="343.55" width="7.60" height="3.90" rx="1.95" fill="rgb(169,169,169)" filter="url(#bl)"/>
<rect x="405.40" y="343.55" width="7.60" height="3.90" rx="1.95" fill="rgb(169,169,169)" filter="url(#bl)"/>
<rect x="414.70" y="343.55" width="7.60" height="3.90" rx="1.95" fill="rgb(167,167,167)" filter="url(#bl)"/>
<rect x="424.00" y="343.55" width="7.60" height="3.90" rx="1.95" fill="rgb(152,152,152)" filter="url(#bl)"/>
<rect x="433.30" y="343.55" width="7.60" height="3.90" rx="1.95" fill="rgb(152,152,152)" filter="url(#bl)"/>
<rect x="442.60" y="343.55" width="7.60" height="3.90" rx="1.95" fill="rgb(135,135,135)" filter="url(#bl)"/>
<rect x="451.90" y="343.55" width="7.60" height="3.90" rx="1.95" fill="rgb(152,152,152)" filter="url(#bl)"/>
<rect x="461.20" y="343.55" width="7.60" height="3.90" rx="1.95" fill="rgb(118,118,118)" filter="url(#bl)"/>
<rect x="396.40" y="346.80" width="7.00" height="2.40" rx="1.20" fill="rgb(174,174,174)" filter="url(#bl2)"/>
<rect x="405.70" y="346.80" width="7.00" height="2.40" rx="1.20" fill="rgb(174,174,174)" filter="url(#bl2)"/>
<rect x="415.00" y="346.80" width="7.00" height="2.40" rx="1.20" fill="rgb(174,174,174)" filter="url(#bl2)"/>
<rect x="375.30" y="358.00" width="6.40" height="2.00" rx="1.00" fill="rgb(126,126,126)" filter="url(#bl2)"/>
<rect x="375.50" y="380.10" width="6.00" height="1.80" rx="0.90" fill="rgb(134,134,134)" filter="url(#bl2)"/>
<rect x="374.10" y="389.55" width="8.80" height="5.50" rx="2.75" fill="rgb(34,34,34)" filter="url(#bl)"/>
<rect x="374.70" y="394.55" width="7.60" height="2.90" rx="1.45" fill="rgb(75,75,75)" filter="url(#bl)"/>
<rect x="384.00" y="389.95" width="7.20" height="2.70" rx="1.35" fill="rgb(147,147,147)" filter="url(#bl)"/>
<rect x="395.50" y="387.65" width="8.80" height="5.30" rx="2.65" fill="rgb(34,34,34)" filter="url(#bl)"/>
<rect x="405.00" y="390.05" width="8.40" height="4.50" rx="2.25" fill="rgb(50,50,50)" filter="url(#bl)"/>
<rect x="414.30" y="390.05" width="8.40" height="4.50" rx="2.25" fill="rgb(50,50,50)" filter="url(#bl)"/>
<rect x="414.80" y="396.25" width="7.40" height="3.50" rx="1.75" fill="rgb(81,81,81)" filter="url(#bl)"/>
<rect x="423.60" y="389.45" width="8.40" height="4.50" rx="2.25" fill="rgb(50,50,50)" filter="url(#bl)"/>
<rect x="424.30" y="396.55" width="7.00" height="2.90" rx="1.45" fill="rgb(149,149,149)" filter="url(#bl)"/>
<rect x="432.40" y="388.15" width="9.40" height="8.30" rx="4.15" fill="rgb(30,30,30)" filter="url(#bl)"/>
<rect x="441.80" y="387.65" width="9.20" height="7.30" rx="3.65" fill="rgb(30,30,30)" filter="url(#bl)"/>
<rect x="451.50" y="388.85" width="8.40" height="4.90" rx="2.45" fill="rgb(51,51,51)" filter="url(#bl)"/>
<rect x="460.80" y="387.85" width="8.40" height="4.90" rx="2.45" fill="rgb(51,51,51)" filter="url(#bl)"/>
<rect x="434.10" y="383.30" width="6.00" height="2.40" rx="1.20" fill="rgb(170,170,170)" filter="url(#bl2)"/>
<rect x="373.80" y="406.40" width="18.00" height="20.60" fill="#cdcdcd"/>
<rect x="393.80" y="406.40" width="77.00" height="20.60" fill="#dcdcdc"/>
<rect x="374.30" y="412.85" width="8.40" height="8.30" rx="4.15" fill="rgb(68,68,68)" filter="url(#bl)"/>
<rect x="384.10" y="415.20" width="7.00" height="3.60" rx="1.80" fill="rgb(173,173,173)" filter="url(#bl2)"/>
<rect x="396.40" y="407.85" width="7.00" height="3.10" rx="1.55" fill="rgb(168,168,168)" filter="url(#bl)"/>
<rect x="396.10" y="414.85" width="7.60" height="4.30" rx="2.15" fill="rgb(137,137,137)" filter="url(#bl)"/>
<rect x="405.70" y="407.85" width="7.00" height="3.10" rx="1.55" fill="rgb(168,168,168)" filter="url(#bl)"/>
<rect x="405.50" y="415.05" width="7.40" height="3.90" rx="1.95" fill="rgb(167,167,167)" filter="url(#bl)"/>
<rect x="414.80" y="407.85" width="7.40" height="3.10" rx="1.55" fill="rgb(150,150,150)" filter="url(#bl)"/>
<rect x="414.60" y="411.50" width="7.80" height="9.00" rx="3.90" fill="rgb(118,118,118)" filter="url(#bl2)"/>
<rect x="414.10" y="418.15" width="8.80" height="8.30" rx="4.15" fill="rgb(30,30,30)" filter="url(#bl)"/>
<rect x="424.10" y="407.85" width="7.40" height="3.10" rx="1.55" fill="rgb(150,150,150)" filter="url(#bl)"/>
<rect x="423.90" y="411.50" width="7.80" height="9.00" rx="3.90" fill="rgb(118,118,118)" filter="url(#bl2)"/>
<rect x="423.40" y="418.15" width="8.80" height="8.30" rx="4.15" fill="rgb(30,30,30)" filter="url(#bl)"/>
<rect x="433.40" y="406.25" width="7.40" height="3.10" rx="1.55" fill="rgb(150,150,150)" filter="url(#bl)"/>
<rect x="433.40" y="410.95" width="7.40" height="3.50" rx="1.75" fill="rgb(151,151,151)" filter="url(#bl)"/>
<rect x="442.90" y="406.45" width="7.00" height="2.70" rx="1.35" fill="rgb(166,166,166)" filter="url(#bl)"/>
<rect x="452.20" y="406.35" width="7.00" height="2.90" rx="1.45" fill="rgb(149,149,149)" filter="url(#bl)"/>
<rect x="461.50" y="406.45" width="7.00" height="2.70" rx="1.35" fill="rgb(166,166,166)" filter="url(#bl)"/>
<rect x="373.80" y="429.30" width="18.00" height="59.10" fill="#cdcdcd"/>
<rect x="393.80" y="429.30" width="77.00" height="59.10" fill="#dcdcdc"/>
<rect x="374.10" y="438.05" width="8.80" height="6.30" rx="3.15" fill="rgb(42,42,42)" filter="url(#bl)"/>
<rect x="383.60" y="439.35" width="8.00" height="4.30" rx="2.15" fill="rgb(67,67,67)" filter="url(#bl)"/>
<rect x="395.30" y="433.85" width="9.20" height="8.70" rx="4.35" fill="rgb(34,34,34)" filter="url(#bl)"/>
<rect x="405.10" y="437.85" width="8.20" height="4.30" rx="2.15" fill="rgb(50,50,50)" filter="url(#bl)"/>
<rect x="414.50" y="435.75" width="8.00" height="2.90" rx="1.45" fill="rgb(94,94,94)" filter="url(#bl)"/>
<rect x="414.30" y="438.65" width="8.40" height="3.90" rx="1.95" fill="rgb(49,49,49)" filter="url(#bl)"/>
<rect x="423.20" y="436.35" width="9.20" height="7.30" rx="3.65" fill="rgb(34,34,34)" filter="url(#bl)"/>
<rect x="433.30" y="435.45" width="7.60" height="2.50" rx="1.25" fill="rgb(107,107,107)" filter="url(#bl)"/>
<rect x="433.00" y="439.05" width="8.20" height="3.90" rx="1.95" fill="rgb(66,66,66)" filter="url(#bl)"/>
<rect x="442.30" y="439.85" width="8.20" height="3.90" rx="1.95" fill="rgb(66,66,66)" filter="url(#bl)"/>
<rect x="452.20" y="434.85" width="7.00" height="2.30" rx="1.15" fill="rgb(163,163,163)" filter="url(#bl)"/>
<rect x="451.20" y="436.25" width="9.00" height="6.70" rx="3.35" fill="rgb(42,42,42)" filter="url(#bl)"/>
<rect x="461.20" y="436.65" width="7.60" height="2.70" rx="1.35" fill="rgb(128,128,128)" filter="url(#bl)"/>
<rect x="460.90" y="439.85" width="8.20" height="3.90" rx="1.95" fill="rgb(83,83,83)" filter="url(#bl)"/>
<rect x="374.10" y="460.85" width="8.80" height="4.30" rx="2.15" fill="rgb(41,41,41)" filter="url(#bl)"/>
<rect x="383.20" y="460.85" width="8.80" height="4.30" rx="2.15" fill="rgb(41,41,41)" filter="url(#bl)"/>
<rect x="395.50" y="460.85" width="8.80" height="4.30" rx="2.15" fill="rgb(41,41,41)" filter="url(#bl)"/>
<rect x="404.80" y="460.85" width="8.80" height="4.30" rx="2.15" fill="rgb(41,41,41)" filter="url(#bl)"/>
<rect x="414.10" y="460.85" width="8.80" height="4.30" rx="2.15" fill="rgb(41,41,41)" filter="url(#bl)"/>
<rect x="423.40" y="460.85" width="8.80" height="4.30" rx="2.15" fill="rgb(41,41,41)" filter="url(#bl)"/>
<rect x="432.70" y="460.85" width="8.80" height="4.30" rx="2.15" fill="rgb(57,57,57)" filter="url(#bl)"/>
<rect x="442.00" y="460.85" width="8.80" height="4.30" rx="2.15" fill="rgb(41,41,41)" filter="url(#bl)"/>
<rect x="451.30" y="460.85" width="8.80" height="4.30" rx="2.15" fill="rgb(41,41,41)" filter="url(#bl)"/>
<rect x="460.60" y="460.85" width="8.80" height="4.30" rx="2.15" fill="rgb(41,41,41)" filter="url(#bl)"/>
<rect x="375.30" y="466.90" width="6.40" height="2.20" rx="1.10" fill="rgb(106,106,106)" filter="url(#bl2)"/>
<rect x="384.60" y="467.00" width="6.00" height="2.00" rx="1.00" fill="rgb(129,129,129)" filter="url(#bl2)"/>
<rect x="396.90" y="483.05" width="6.00" height="2.50" rx="1.25" fill="rgb(180,180,180)" filter="url(#bl)"/>
<rect x="415.50" y="483.15" width="6.00" height="2.30" rx="1.15" fill="rgb(188,188,188)" filter="url(#bl)"/>
<rect x="433.60" y="482.35" width="7.00" height="2.70" rx="1.35" fill="rgb(147,147,147)" filter="url(#bl)"/>
<rect x="451.90" y="480.45" width="7.60" height="3.70" rx="1.85" fill="rgb(117,117,117)" filter="url(#bl)"/>
<rect x="376.00" y="483.10" width="5.00" height="1.80" rx="0.90" fill="rgb(156,156,156)" filter="url(#bl2)"/>
<rect x="373.80" y="489.60" width="18.00" height="13.80" fill="#cdcdcd"/>
<rect x="393.80" y="489.60" width="77.00" height="13.80" fill="#dcdcdc"/>
<rect x="374.10" y="493.75" width="8.80" height="5.30" rx="2.65" fill="rgb(51,51,51)" filter="url(#bl)"/>
<rect x="383.20" y="493.75" width="8.80" height="5.30" rx="2.65" fill="rgb(68,68,68)" filter="url(#bl)"/>
<rect x="395.50" y="492.25" width="8.80" height="5.30" rx="2.65" fill="rgb(34,34,34)" filter="url(#bl)"/>
<rect x="404.80" y="493.75" width="8.80" height="5.30" rx="2.65" fill="rgb(34,34,34)" filter="url(#bl)"/>
<rect x="414.10" y="493.75" width="8.80" height="5.30" rx="2.65" fill="rgb(34,34,34)" filter="url(#bl)"/>
<rect x="423.40" y="493.75" width="8.80" height="5.30" rx="2.65" fill="rgb(34,34,34)" filter="url(#bl)"/>
<rect x="432.70" y="494.35" width="8.80" height="4.10" rx="2.05" fill="rgb(49,49,49)" filter="url(#bl)"/>
<rect x="442.00" y="493.75" width="8.80" height="5.30" rx="2.65" fill="rgb(34,34,34)" filter="url(#bl)"/>
<rect x="451.30" y="493.75" width="8.80" height="5.30" rx="2.65" fill="rgb(34,34,34)" filter="url(#bl)"/>
<rect x="460.60" y="493.75" width="8.80" height="5.30" rx="2.65" fill="rgb(34,34,34)" filter="url(#bl)"/>
<line x1="370.80" y1="313.50" x2="373.40" y2="313.50" stroke="#333" stroke-width="0.8"/>
<text x="368.30" y="315.70" font-size="6.4" text-anchor="end" fill="#2a2a2a" stroke="#2a2a2a" stroke-width="0.12" textLength="6.76" lengthAdjust="spacingAndGlyphs">70</text>
<line x1="370.80" y1="328.80" x2="373.40" y2="328.80" stroke="#333" stroke-width="0.8"/>
<text x="368.30" y="331.00" font-size="6.4" text-anchor="end" fill="#2a2a2a" stroke="#2a2a2a" stroke-width="0.12" textLength="6.76" lengthAdjust="spacingAndGlyphs">55</text>
<line x1="370.80" y1="347.50" x2="373.40" y2="347.50" stroke="#333" stroke-width="0.8"/>
<text x="368.30" y="349.70" font-size="6.4" text-anchor="end" fill="#2a2a2a" stroke="#2a2a2a" stroke-width="0.12" textLength="10.14" lengthAdjust="spacingAndGlyphs">130</text>
<line x1="370.80" y1="393.80" x2="373.40" y2="393.80" stroke="#333" stroke-width="0.8"/>
<text x="368.30" y="396.00" font-size="6.4" text-anchor="end" fill="#2a2a2a" stroke="#2a2a2a" stroke-width="0.12" textLength="6.76" lengthAdjust="spacingAndGlyphs">55</text>
<line x1="370.80" y1="410.50" x2="373.40" y2="410.50" stroke="#333" stroke-width="0.8"/>
<text x="368.30" y="412.70" font-size="6.4" text-anchor="end" fill="#2a2a2a" stroke="#2a2a2a" stroke-width="0.12" textLength="10.14" lengthAdjust="spacingAndGlyphs">100</text>
<line x1="370.80" y1="424.40" x2="373.40" y2="424.40" stroke="#333" stroke-width="0.8"/>
<text x="368.30" y="426.60" font-size="6.4" text-anchor="end" fill="#2a2a2a" stroke="#2a2a2a" stroke-width="0.12" textLength="6.76" lengthAdjust="spacingAndGlyphs">70</text>
<line x1="370.80" y1="432.50" x2="373.40" y2="432.50" stroke="#333" stroke-width="0.8"/>
<text x="368.30" y="434.70" font-size="6.4" text-anchor="end" fill="#2a2a2a" stroke="#2a2a2a" stroke-width="0.12" textLength="6.76" lengthAdjust="spacingAndGlyphs">70</text>
<line x1="370.80" y1="486.30" x2="373.40" y2="486.30" stroke="#333" stroke-width="0.8"/>
<text x="368.30" y="488.50" font-size="6.4" text-anchor="end" fill="#2a2a2a" stroke="#2a2a2a" stroke-width="0.12" textLength="6.76" lengthAdjust="spacingAndGlyphs">35</text>
<line x1="370.80" y1="499.30" x2="373.40" y2="499.30" stroke="#333" stroke-width="0.8"/>
<text x="368.30" y="501.50" font-size="6.4" text-anchor="end" fill="#2a2a2a" stroke="#2a2a2a" stroke-width="0.12" textLength="6.76" lengthAdjust="spacingAndGlyphs">40</text>
<text x="474.70" y="315.90" font-size="6.8" fill="#333" stroke="#333" stroke-width="0.12" textLength="31.60" lengthAdjust="spacingAndGlyphs">Regnase-1</text>
<text x="474.70" y="329.70" font-size="6.8" fill="#333" stroke="#333" stroke-width="0.12" textLength="38.42" lengthAdjust="spacingAndGlyphs">Regnase-1 ct</text>
<text x="474.70" y="343.40" font-size="6.8" fill="#333" stroke="#333" stroke-width="0.12" textLength="31.60" lengthAdjust="spacingAndGlyphs">Roquin-1/2</text>
<text x="474.70" y="393.30" font-size="6.8" fill="#333" stroke="#333" stroke-width="0.12" textLength="38.42" lengthAdjust="spacingAndGlyphs">Roquin-1/2 ct</text>
<text x="475.20" y="416.50" font-size="6.6" fill="#333" stroke="#333" stroke-width="0.12" textLength="3.49" lengthAdjust="spacingAndGlyphs">L</text>
<text x="475.20" y="424.20" font-size="6.6" fill="#333" stroke="#333" stroke-width="0.12" textLength="4.18" lengthAdjust="spacingAndGlyphs">S</text>
<text x="480.00" y="420.50" font-size="6.6" fill="#333" stroke="#333" stroke-width="0.12" textLength="12.80" lengthAdjust="spacingAndGlyphs">IκBζ</text>
<line x1="475.20" y1="438.70" x2="480.80" y2="438.70" stroke="#333" stroke-width="0.9"/>
<text x="483.00" y="438.90" font-size="6.8" fill="#333" stroke="#333" stroke-width="0.12" textLength="17.60" lengthAdjust="spacingAndGlyphs">IκBNS</text>
<text x="483.00" y="444.10" font-size="6.8" fill="#333" stroke="#333" stroke-width="0.12" textLength="10.60" lengthAdjust="spacingAndGlyphs">p70</text>
<circle cx="476.10" cy="442.40" r="0.95" fill="#333"/>
<circle cx="476.10" cy="463.10" r="0.95" fill="#333"/>
<line x1="475.20" y1="481.60" x2="480.80" y2="481.60" stroke="#333" stroke-width="0.9"/>
<text x="483.00" y="481.80" font-size="6.8" fill="#333" stroke="#333" stroke-width="0.12" textLength="17.60" lengthAdjust="spacingAndGlyphs">IκBNS</text>
<text x="483.00" y="486.90" font-size="6.8" fill="#333" stroke="#333" stroke-width="0.12" textLength="10.60" lengthAdjust="spacingAndGlyphs">p35</text>
<text x="474.10" y="499.80" font-size="6.8" fill="#333" stroke="#333" stroke-width="0.12" textLength="20.23" lengthAdjust="spacingAndGlyphs">β-Actin</text>
<text x="24.20" y="530.60" font-size="10.6" font-weight="bold" fill="#000" stroke="#000" stroke-width="0.3" textLength="5.50" lengthAdjust="spacingAndGlyphs">F</text>
<text x="39.60" y="572.40" font-size="7.0" text-anchor="middle" fill="#333" stroke="#333" stroke-width="0.12" textLength="67.20" lengthAdjust="spacingAndGlyphs" transform="rotate(-90 39.60 572.40)">Relative transcript level</text>
<text x="50.20" y="573.00" font-size="7.0" text-anchor="middle" fill="#333" stroke="#333" stroke-width="0.12" textLength="58.60" lengthAdjust="spacingAndGlyphs" transform="rotate(-90 50.20 573.00)">(normalised to RPII)</text>
<rect x="76.55" y="550.80" width="4.30" height="58.50" fill="#2ea3d9"/>
<line x1="78.70" y1="550.80" x2="78.70" y2="543.19" stroke="#5a5a5a" stroke-width="0.8"/>
<line x1="77.20" y1="543.19" x2="80.20" y2="543.19" stroke="#5a5a5a" stroke-width="0.8"/>
<rect x="83.74" y="575.37" width="4.30" height="33.93" fill="#2ea3d9"/>
<line x1="85.89" y1="575.37" x2="85.89" y2="563.08" stroke="#5a5a5a" stroke-width="0.8"/>
<line x1="84.39" y1="563.08" x2="87.39" y2="563.08" stroke="#5a5a5a" stroke-width="0.8"/>
<rect x="90.93" y="559.57" width="4.30" height="49.73" fill="#2ea3d9"/>
<line x1="93.08" y1="559.57" x2="93.08" y2="540.27" stroke="#5a5a5a" stroke-width="0.8"/>
<line x1="91.58" y1="540.27" x2="94.58" y2="540.27" stroke="#5a5a5a" stroke-width="0.8"/>
<rect x="98.12" y="595.84" width="4.30" height="13.46" fill="#5aaee0"/>
<line x1="100.27" y1="595.84" x2="100.27" y2="594.09" stroke="#5a5a5a" stroke-width="0.8"/>
<line x1="98.77" y1="594.09" x2="101.77" y2="594.09" stroke="#5a5a5a" stroke-width="0.8"/>
<rect x="105.31" y="600.52" width="4.30" height="8.77" fill="#5aaee0"/>
<line x1="107.46" y1="600.52" x2="107.46" y2="599.35" stroke="#5a5a5a" stroke-width="0.8"/>
<line x1="105.96" y1="599.35" x2="108.96" y2="599.35" stroke="#5a5a5a" stroke-width="0.8"/>
<rect x="112.50" y="600.52" width="4.30" height="8.77" fill="#5aaee0"/>
<line x1="114.65" y1="600.52" x2="114.65" y2="599.94" stroke="#5a5a5a" stroke-width="0.8"/>
<line x1="113.15" y1="599.94" x2="116.15" y2="599.94" stroke="#5a5a5a" stroke-width="0.8"/>
<rect x="119.69" y="603.45" width="4.30" height="5.85" fill="#8cc6ec"/>
<line x1="121.84" y1="603.45" x2="121.84" y2="602.87" stroke="#5a5a5a" stroke-width="0.8"/>
<line x1="120.34" y1="602.87" x2="123.34" y2="602.87" stroke="#5a5a5a" stroke-width="0.8"/>
<rect x="126.88" y="606.38" width="4.30" height="2.92" fill="#8cc6ec"/>
<line x1="129.03" y1="606.38" x2="129.03" y2="606.08" stroke="#5a5a5a" stroke-width="0.8"/>
<line x1="127.53" y1="606.08" x2="130.53" y2="606.08" stroke="#5a5a5a" stroke-width="0.8"/>
<rect x="134.07" y="604.62" width="4.30" height="4.68" fill="#8cc6ec"/>
<line x1="136.22" y1="604.62" x2="136.22" y2="604.03" stroke="#5a5a5a" stroke-width="0.8"/>
<line x1="134.72" y1="604.03" x2="137.72" y2="604.03" stroke="#5a5a5a" stroke-width="0.8"/>
<rect x="141.26" y="592.33" width="4.30" height="16.97" fill="#c3dcf3"/>
<line x1="143.41" y1="592.33" x2="143.41" y2="589.41" stroke="#5a5a5a" stroke-width="0.8"/>
<line x1="141.91" y1="589.41" x2="144.91" y2="589.41" stroke="#5a5a5a" stroke-width="0.8"/>
<rect x="148.45" y="592.33" width="4.30" height="16.97" fill="#c3dcf3"/>
<line x1="150.60" y1="592.33" x2="150.60" y2="590.58" stroke="#5a5a5a" stroke-width="0.8"/>
<line x1="149.10" y1="590.58" x2="152.10" y2="590.58" stroke="#5a5a5a" stroke-width="0.8"/>
<rect x="155.64" y="604.62" width="4.30" height="4.68" fill="#c3dcf3"/>
<line x1="157.79" y1="604.62" x2="157.79" y2="604.33" stroke="#5a5a5a" stroke-width="0.8"/>
<line x1="156.29" y1="604.33" x2="159.29" y2="604.33" stroke="#5a5a5a" stroke-width="0.8"/>
<rect x="162.83" y="603.45" width="4.30" height="5.85" fill="#dde9f8"/>
<line x1="164.98" y1="603.45" x2="164.98" y2="602.87" stroke="#5a5a5a" stroke-width="0.8"/>
<line x1="163.48" y1="602.87" x2="166.48" y2="602.87" stroke="#5a5a5a" stroke-width="0.8"/>
<rect x="170.02" y="607.90" width="4.30" height="1.40" fill="#dde9f8"/>
<line x1="172.17" y1="607.90" x2="172.17" y2="607.84" stroke="#5a5a5a" stroke-width="0.8"/>
<line x1="170.67" y1="607.84" x2="173.67" y2="607.84" stroke="#5a5a5a" stroke-width="0.8"/>
<rect x="177.21" y="604.62" width="4.30" height="4.68" fill="#dde9f8"/>
<line x1="179.36" y1="604.62" x2="179.36" y2="604.33" stroke="#5a5a5a" stroke-width="0.8"/>
<line x1="177.86" y1="604.33" x2="180.86" y2="604.33" stroke="#5a5a5a" stroke-width="0.8"/>
<line x1="73.70" y1="609.50" x2="184.70" y2="609.50" stroke="#333" stroke-width="1.5"/>
<line x1="73.70" y1="538.50" x2="73.70" y2="609.30" stroke="#333" stroke-width="0.9"/>
<line x1="70.90" y1="609.30" x2="73.70" y2="609.30" stroke="#333" stroke-width="0.8"/>
<text x="68.60" y="611.60" font-size="6.4" text-anchor="end" fill="#333" stroke="#333" stroke-width="0.12" textLength="8.45" lengthAdjust="spacingAndGlyphs">0.0</text>
<line x1="70.90" y1="597.60" x2="73.70" y2="597.60" stroke="#333" stroke-width="0.8"/>
<text x="68.60" y="599.90" font-size="6.4" text-anchor="end" fill="#333" stroke="#333" stroke-width="0.12" textLength="8.45" lengthAdjust="spacingAndGlyphs">2.0</text>
<line x1="70.90" y1="585.90" x2="73.70" y2="585.90" stroke="#333" stroke-width="0.8"/>
<text x="68.60" y="588.20" font-size="6.4" text-anchor="end" fill="#333" stroke="#333" stroke-width="0.12" textLength="8.45" lengthAdjust="spacingAndGlyphs">4.0</text>
<line x1="70.90" y1="574.20" x2="73.70" y2="574.20" stroke="#333" stroke-width="0.8"/>
<text x="68.60" y="576.50" font-size="6.4" text-anchor="end" fill="#333" stroke="#333" stroke-width="0.12" textLength="8.45" lengthAdjust="spacingAndGlyphs">6.0</text>
<line x1="70.90" y1="562.50" x2="73.70" y2="562.50" stroke="#333" stroke-width="0.8"/>
<text x="68.60" y="564.80" font-size="6.4" text-anchor="end" fill="#333" stroke="#333" stroke-width="0.12" textLength="8.45" lengthAdjust="spacingAndGlyphs">8.0</text>
<line x1="70.90" y1="550.80" x2="73.70" y2="550.80" stroke="#333" stroke-width="0.8"/>
<text x="68.60" y="553.10" font-size="6.4" text-anchor="end" fill="#333" stroke="#333" stroke-width="0.12" textLength="11.83" lengthAdjust="spacingAndGlyphs">10.0</text>
<line x1="70.90" y1="539.10" x2="73.70" y2="539.10" stroke="#333" stroke-width="0.8"/>
<text x="68.60" y="541.40" font-size="6.4" text-anchor="end" fill="#333" stroke="#333" stroke-width="0.12" textLength="11.83" lengthAdjust="spacingAndGlyphs">12.0</text>
<line x1="101.90" y1="585.40" x2="114.90" y2="585.40" stroke="#333" stroke-width="0.75"/>
<path d="M105.85 581.10L105.85 583.50M104.81 581.70L106.89 582.90M104.81 582.90L106.89 581.70" stroke="#333" stroke-width="0.6" fill="none"/>
<path d="M108.40 581.10L108.40 583.50M107.36 581.70L109.44 582.90M107.36 582.90L109.44 581.70" stroke="#333" stroke-width="0.6" fill="none"/>
<path d="M110.95 581.10L110.95 583.50M109.91 581.70L111.99 582.90M109.91 582.90L111.99 581.70" stroke="#333" stroke-width="0.6" fill="none"/>
<line x1="101.00" y1="591.40" x2="107.10" y2="591.40" stroke="#333" stroke-width="0.75"/>
<path d="M101.50 587.10L101.50 589.50M100.46 587.70L102.54 588.90M100.46 588.90L102.54 587.70" stroke="#333" stroke-width="0.6" fill="none"/>
<path d="M104.05 587.10L104.05 589.50M103.01 587.70L105.09 588.90M103.01 588.90L105.09 587.70" stroke="#333" stroke-width="0.6" fill="none"/>
<path d="M106.60 587.10L106.60 589.50M105.56 587.70L107.64 588.90M105.56 588.90L107.64 587.70" stroke="#333" stroke-width="0.6" fill="none"/>
<line x1="122.30" y1="593.20" x2="136.00" y2="593.20" stroke="#333" stroke-width="0.75"/>
<path d="M129.15 588.90L129.15 591.30M128.11 589.50L130.19 590.70M128.11 590.70L130.19 589.50" stroke="#333" stroke-width="0.6" fill="none"/>
<line x1="123.00" y1="601.00" x2="129.30" y2="601.00" stroke="#333" stroke-width="0.75"/>
<path d="M122.33 596.70L122.33 599.10M121.29 597.30L123.36 598.50M121.29 598.50L123.36 597.30" stroke="#333" stroke-width="0.6" fill="none"/>
<path d="M124.88 596.70L124.88 599.10M123.84 597.30L125.91 598.50M123.84 598.50L125.91 597.30" stroke="#333" stroke-width="0.6" fill="none"/>
<path d="M127.43 596.70L127.43 599.10M126.39 597.30L128.46 598.50M126.39 598.50L128.46 597.30" stroke="#333" stroke-width="0.6" fill="none"/>
<path d="M129.97 596.70L129.97 599.10M128.94 597.30L131.01 598.50M128.94 598.50L131.01 597.30" stroke="#333" stroke-width="0.6" fill="none"/>
<line x1="144.30" y1="586.20" x2="157.00" y2="586.20" stroke="#333" stroke-width="0.75"/>
<path d="M146.83 581.90L146.83 584.30M145.79 582.50L147.86 583.70M145.79 583.70L147.86 582.50" stroke="#333" stroke-width="0.6" fill="none"/>
<path d="M149.38 581.90L149.38 584.30M148.34 582.50L150.41 583.70M148.34 583.70L150.41 582.50" stroke="#333" stroke-width="0.6" fill="none"/>
<path d="M151.93 581.90L151.93 584.30M150.89 582.50L152.96 583.70M150.89 583.70L152.96 582.50" stroke="#333" stroke-width="0.6" fill="none"/>
<path d="M154.47 581.90L154.47 584.30M153.44 582.50L155.51 583.70M153.44 583.70L155.51 582.50" stroke="#333" stroke-width="0.6" fill="none"/>
<line x1="166.00" y1="595.20" x2="180.20" y2="595.20" stroke="#333" stroke-width="0.75"/>
<path d="M173.10 590.90L173.10 593.30M172.06 591.50L174.14 592.70M172.06 592.70L174.14 591.50" stroke="#333" stroke-width="0.6" fill="none"/>
<line x1="166.50" y1="601.80" x2="172.90" y2="601.80" stroke="#333" stroke-width="0.75"/>
<path d="M165.88 597.50L165.88 599.90M164.84 598.10L166.91 599.30M164.84 599.30L166.91 598.10" stroke="#333" stroke-width="0.6" fill="none"/>
<path d="M168.42 597.50L168.42 599.90M167.39 598.10L169.46 599.30M167.39 599.30L169.46 598.10" stroke="#333" stroke-width="0.6" fill="none"/>
<path d="M170.97 597.50L170.97 599.90M169.94 598.10L172.01 599.30M169.94 599.30L172.01 598.10" stroke="#333" stroke-width="0.6" fill="none"/>
<path d="M173.52 597.50L173.52 599.90M172.49 598.10L174.56 599.30M172.49 599.30L174.56 598.10" stroke="#333" stroke-width="0.6" fill="none"/>
<text x="103.10" y="533.00" font-size="8.6" fill="#333" stroke="#333" stroke-width="0.12" font-style="italic" textLength="53.40" lengthAdjust="spacingAndGlyphs">NFKBIZ (IKBZ)</text>
<line x1="77.50" y1="616.30" x2="79.90" y2="616.30" stroke="#444" stroke-width="0.6"/>
<line x1="78.70" y1="615.10" x2="78.70" y2="617.50" stroke="#444" stroke-width="0.6"/>
<line x1="84.69" y1="625.80" x2="87.09" y2="625.80" stroke="#444" stroke-width="0.6"/>
<line x1="85.89" y1="624.60" x2="85.89" y2="627.00" stroke="#444" stroke-width="0.6"/>
<line x1="91.88" y1="635.50" x2="94.28" y2="635.50" stroke="#444" stroke-width="0.6"/>
<line x1="93.08" y1="634.30" x2="93.08" y2="636.70" stroke="#444" stroke-width="0.6"/>
<line x1="99.07" y1="616.30" x2="101.47" y2="616.30" stroke="#444" stroke-width="0.6"/>
<line x1="100.27" y1="615.10" x2="100.27" y2="617.50" stroke="#444" stroke-width="0.6"/>
<line x1="106.26" y1="625.80" x2="108.66" y2="625.80" stroke="#444" stroke-width="0.6"/>
<line x1="107.46" y1="624.60" x2="107.46" y2="627.00" stroke="#444" stroke-width="0.6"/>
<line x1="113.45" y1="635.50" x2="115.85" y2="635.50" stroke="#444" stroke-width="0.6"/>
<line x1="114.65" y1="634.30" x2="114.65" y2="636.70" stroke="#444" stroke-width="0.6"/>
<line x1="120.64" y1="616.30" x2="123.04" y2="616.30" stroke="#444" stroke-width="0.6"/>
<line x1="121.84" y1="615.10" x2="121.84" y2="617.50" stroke="#444" stroke-width="0.6"/>
<line x1="127.83" y1="625.80" x2="130.23" y2="625.80" stroke="#444" stroke-width="0.6"/>
<line x1="129.03" y1="624.60" x2="129.03" y2="627.00" stroke="#444" stroke-width="0.6"/>
<line x1="135.02" y1="635.50" x2="137.42" y2="635.50" stroke="#444" stroke-width="0.6"/>
<line x1="136.22" y1="634.30" x2="136.22" y2="636.70" stroke="#444" stroke-width="0.6"/>
<line x1="142.21" y1="616.30" x2="144.61" y2="616.30" stroke="#444" stroke-width="0.6"/>
<line x1="143.41" y1="615.10" x2="143.41" y2="617.50" stroke="#444" stroke-width="0.6"/>
<line x1="149.40" y1="625.80" x2="151.80" y2="625.80" stroke="#444" stroke-width="0.6"/>
<line x1="150.60" y1="624.60" x2="150.60" y2="627.00" stroke="#444" stroke-width="0.6"/>
<line x1="156.59" y1="635.50" x2="158.99" y2="635.50" stroke="#444" stroke-width="0.6"/>
<line x1="157.79" y1="634.30" x2="157.79" y2="636.70" stroke="#444" stroke-width="0.6"/>
<line x1="163.78" y1="616.30" x2="166.18" y2="616.30" stroke="#444" stroke-width="0.6"/>
<line x1="164.98" y1="615.10" x2="164.98" y2="617.50" stroke="#444" stroke-width="0.6"/>
<line x1="170.97" y1="625.80" x2="173.37" y2="625.80" stroke="#444" stroke-width="0.6"/>
<line x1="172.17" y1="624.60" x2="172.17" y2="627.00" stroke="#444" stroke-width="0.6"/>
<line x1="178.16" y1="635.50" x2="180.56" y2="635.50" stroke="#444" stroke-width="0.6"/>
<line x1="179.36" y1="634.30" x2="179.36" y2="636.70" stroke="#444" stroke-width="0.6"/>
<line x1="76.40" y1="642.30" x2="95.38" y2="642.30" stroke="#333" stroke-width="0.8"/>
<text x="86.09" y="648.40" font-size="6.8" text-anchor="end" fill="#333" stroke="#333" stroke-width="0.12" textLength="27.40" lengthAdjust="spacingAndGlyphs" transform="rotate(-45 86.09 648.40)">OCI-Ly10</text>
<line x1="97.97" y1="642.30" x2="116.95" y2="642.30" stroke="#333" stroke-width="0.8"/>
<text x="107.66" y="648.40" font-size="6.8" text-anchor="end" fill="#333" stroke="#333" stroke-width="0.12" textLength="16.16" lengthAdjust="spacingAndGlyphs" transform="rotate(-45 107.66 648.40)">HBL1</text>
<line x1="119.54" y1="642.30" x2="138.52" y2="642.30" stroke="#333" stroke-width="0.8"/>
<text x="129.23" y="648.40" font-size="6.8" text-anchor="end" fill="#333" stroke="#333" stroke-width="0.12" textLength="17.58" lengthAdjust="spacingAndGlyphs" transform="rotate(-45 129.23 648.40)">TMD8</text>
<line x1="141.11" y1="642.30" x2="160.09" y2="642.30" stroke="#333" stroke-width="0.8"/>
<text x="150.80" y="648.40" font-size="6.8" text-anchor="end" fill="#333" stroke="#333" stroke-width="0.12" textLength="23.81" lengthAdjust="spacingAndGlyphs" transform="rotate(-45 150.80 648.40)">OCI-Ly3</text>
<line x1="162.68" y1="642.30" x2="181.66" y2="642.30" stroke="#333" stroke-width="0.8"/>
<text x="172.37" y="648.40" font-size="6.8" text-anchor="end" fill="#333" stroke="#333" stroke-width="0.12" textLength="19.03" lengthAdjust="spacingAndGlyphs" transform="rotate(-45 172.37 648.40)">U2932</text>
<rect x="217.40" y="595.90" width="4.30" height="14.10" fill="#2ea3d9"/>
<line x1="219.55" y1="595.90" x2="219.55" y2="590.02" stroke="#5a5a5a" stroke-width="0.8"/>
<line x1="218.05" y1="590.02" x2="221.05" y2="590.02" stroke="#5a5a5a" stroke-width="0.8"/>
<rect x="224.61" y="608.12" width="4.30" height="1.88" fill="#2ea3d9"/>
<line x1="226.76" y1="608.12" x2="226.76" y2="607.65" stroke="#5a5a5a" stroke-width="0.8"/>
<line x1="225.26" y1="607.65" x2="228.26" y2="607.65" stroke="#5a5a5a" stroke-width="0.8"/>
<rect x="231.83" y="604.60" width="4.30" height="5.40" fill="#2ea3d9"/>
<line x1="233.98" y1="604.60" x2="233.98" y2="603.42" stroke="#5a5a5a" stroke-width="0.8"/>
<line x1="232.48" y1="603.42" x2="235.48" y2="603.42" stroke="#5a5a5a" stroke-width="0.8"/>
<rect x="239.04" y="563.00" width="4.30" height="47.00" fill="#5aaee0"/>
<line x1="241.19" y1="563.00" x2="241.19" y2="557.12" stroke="#5a5a5a" stroke-width="0.8"/>
<line x1="239.69" y1="557.12" x2="242.69" y2="557.12" stroke="#5a5a5a" stroke-width="0.8"/>
<rect x="246.26" y="602.25" width="4.30" height="7.75" fill="#5aaee0"/>
<line x1="248.41" y1="602.25" x2="248.41" y2="601.07" stroke="#5a5a5a" stroke-width="0.8"/>
<line x1="246.91" y1="601.07" x2="249.91" y2="601.07" stroke="#5a5a5a" stroke-width="0.8"/>
<rect x="253.47" y="598.72" width="4.30" height="11.28" fill="#5aaee0"/>
<line x1="255.62" y1="598.72" x2="255.62" y2="597.08" stroke="#5a5a5a" stroke-width="0.8"/>
<line x1="254.12" y1="597.08" x2="257.12" y2="597.08" stroke="#5a5a5a" stroke-width="0.8"/>
<rect x="260.68" y="587.67" width="4.30" height="22.33" fill="#8cc6ec"/>
<line x1="262.83" y1="587.67" x2="262.83" y2="583.68" stroke="#5a5a5a" stroke-width="0.8"/>
<line x1="261.33" y1="583.68" x2="264.33" y2="583.68" stroke="#5a5a5a" stroke-width="0.8"/>
<rect x="267.90" y="608.60" width="4.30" height="1.40" fill="#8cc6ec"/>
<rect x="275.11" y="605.30" width="4.30" height="4.70" fill="#8cc6ec"/>
<line x1="277.26" y1="605.30" x2="277.26" y2="604.83" stroke="#5a5a5a" stroke-width="0.8"/>
<line x1="275.76" y1="604.83" x2="278.76" y2="604.83" stroke="#5a5a5a" stroke-width="0.8"/>
<rect x="282.33" y="557.12" width="4.30" height="52.88" fill="#c3dcf3"/>
<line x1="284.48" y1="557.12" x2="284.48" y2="549.61" stroke="#5a5a5a" stroke-width="0.8"/>
<line x1="282.98" y1="549.61" x2="285.98" y2="549.61" stroke="#5a5a5a" stroke-width="0.8"/>
<rect x="289.54" y="552.42" width="4.30" height="57.58" fill="#c3dcf3"/>
<line x1="291.69" y1="552.42" x2="291.69" y2="545.38" stroke="#5a5a5a" stroke-width="0.8"/>
<line x1="290.19" y1="545.38" x2="293.19" y2="545.38" stroke="#5a5a5a" stroke-width="0.8"/>
<rect x="296.75" y="599.42" width="4.30" height="10.58" fill="#c3dcf3"/>
<line x1="298.90" y1="599.42" x2="298.90" y2="598.72" stroke="#5a5a5a" stroke-width="0.8"/>
<line x1="297.40" y1="598.72" x2="300.40" y2="598.72" stroke="#5a5a5a" stroke-width="0.8"/>
<rect x="303.97" y="586.50" width="4.30" height="23.50" fill="#dde9f8"/>
<line x1="306.12" y1="586.50" x2="306.12" y2="585.33" stroke="#5a5a5a" stroke-width="0.8"/>
<line x1="304.62" y1="585.33" x2="307.62" y2="585.33" stroke="#5a5a5a" stroke-width="0.8"/>
<rect x="311.18" y="606.48" width="4.30" height="3.52" fill="#dde9f8"/>
<line x1="313.33" y1="606.48" x2="313.33" y2="605.77" stroke="#5a5a5a" stroke-width="0.8"/>
<line x1="311.83" y1="605.77" x2="314.83" y2="605.77" stroke="#5a5a5a" stroke-width="0.8"/>
<rect x="318.40" y="605.30" width="4.30" height="4.70" fill="#dde9f8"/>
<line x1="320.55" y1="605.30" x2="320.55" y2="604.36" stroke="#5a5a5a" stroke-width="0.8"/>
<line x1="319.05" y1="604.36" x2="322.05" y2="604.36" stroke="#5a5a5a" stroke-width="0.8"/>
<line x1="214.50" y1="610.20" x2="325.00" y2="610.20" stroke="#333" stroke-width="1.5"/>
<line x1="214.50" y1="538.90" x2="214.50" y2="610.00" stroke="#333" stroke-width="0.9"/>
<line x1="211.70" y1="610.00" x2="214.50" y2="610.00" stroke="#333" stroke-width="0.8"/>
<text x="208.90" y="612.30" font-size="6.4" text-anchor="end" fill="#333" stroke="#333" stroke-width="0.12" textLength="8.45" lengthAdjust="spacingAndGlyphs">0.0</text>
<line x1="211.70" y1="586.50" x2="214.50" y2="586.50" stroke="#333" stroke-width="0.8"/>
<text x="208.90" y="588.80" font-size="6.4" text-anchor="end" fill="#333" stroke="#333" stroke-width="0.12" textLength="8.45" lengthAdjust="spacingAndGlyphs">1.0</text>
<line x1="211.70" y1="563.00" x2="214.50" y2="563.00" stroke="#333" stroke-width="0.8"/>
<text x="208.90" y="565.30" font-size="6.4" text-anchor="end" fill="#333" stroke="#333" stroke-width="0.12" textLength="8.45" lengthAdjust="spacingAndGlyphs">2.0</text>
<line x1="211.70" y1="539.50" x2="214.50" y2="539.50" stroke="#333" stroke-width="0.8"/>
<text x="208.90" y="541.80" font-size="6.4" text-anchor="end" fill="#333" stroke="#333" stroke-width="0.12" textLength="8.45" lengthAdjust="spacingAndGlyphs">3.0</text>
<line x1="221.20" y1="579.10" x2="234.70" y2="579.10" stroke="#333" stroke-width="0.75"/>
<path d="M226.67 574.80L226.67 577.20M225.64 575.40L227.71 576.60M225.64 576.60L227.71 575.40" stroke="#333" stroke-width="0.6" fill="none"/>
<path d="M229.22 574.80L229.22 577.20M228.19 575.40L230.26 576.60M228.19 576.60L230.26 575.40" stroke="#333" stroke-width="0.6" fill="none"/>
<line x1="218.80" y1="587.20" x2="226.90" y2="587.20" stroke="#333" stroke-width="0.75"/>
<path d="M220.30 582.90L220.30 585.30M219.26 583.50L221.34 584.70M219.26 584.70L221.34 583.50" stroke="#333" stroke-width="0.6" fill="none"/>
<path d="M222.85 582.90L222.85 585.30M221.81 583.50L223.89 584.70M221.81 584.70L223.89 583.50" stroke="#333" stroke-width="0.6" fill="none"/>
<path d="M225.40 582.90L225.40 585.30M224.36 583.50L226.44 584.70M224.36 584.70L226.44 583.50" stroke="#333" stroke-width="0.6" fill="none"/>
<line x1="241.30" y1="546.00" x2="255.80" y2="546.00" stroke="#333" stroke-width="0.75"/>
<path d="M244.73 541.70L244.73 544.10M243.69 542.30L245.76 543.50M243.69 543.50L245.76 542.30" stroke="#333" stroke-width="0.6" fill="none"/>
<path d="M247.28 541.70L247.28 544.10M246.24 542.30L248.31 543.50M246.24 543.50L248.31 542.30" stroke="#333" stroke-width="0.6" fill="none"/>
<path d="M249.83 541.70L249.83 544.10M248.79 542.30L250.86 543.50M248.79 543.50L250.86 542.30" stroke="#333" stroke-width="0.6" fill="none"/>
<path d="M252.38 541.70L252.38 544.10M251.34 542.30L253.41 543.50M251.34 543.50L253.41 542.30" stroke="#333" stroke-width="0.6" fill="none"/>
<line x1="240.50" y1="553.20" x2="250.00" y2="553.20" stroke="#333" stroke-width="0.75"/>
<path d="M241.43 548.90L241.43 551.30M240.39 549.50L242.46 550.70M240.39 550.70L242.46 549.50" stroke="#333" stroke-width="0.6" fill="none"/>
<path d="M243.97 548.90L243.97 551.30M242.94 549.50L245.01 550.70M242.94 550.70L245.01 549.50" stroke="#333" stroke-width="0.6" fill="none"/>
<path d="M246.53 548.90L246.53 551.30M245.49 549.50L247.56 550.70M245.49 550.70L247.56 549.50" stroke="#333" stroke-width="0.6" fill="none"/>
<path d="M249.07 548.90L249.07 551.30M248.04 549.50L250.11 550.70M248.04 550.70L250.11 549.50" stroke="#333" stroke-width="0.6" fill="none"/>
<line x1="264.40" y1="572.80" x2="278.00" y2="572.80" stroke="#333" stroke-width="0.75"/>
<path d="M267.38 568.50L267.38 570.90M266.34 569.10L268.41 570.30M266.34 570.30L268.41 569.10" stroke="#333" stroke-width="0.6" fill="none"/>
<path d="M269.93 568.50L269.93 570.90M268.89 569.10L270.96 570.30M268.89 570.30L270.96 569.10" stroke="#333" stroke-width="0.6" fill="none"/>
<path d="M272.47 568.50L272.47 570.90M271.44 569.10L273.51 570.30M271.44 570.30L273.51 569.10" stroke="#333" stroke-width="0.6" fill="none"/>
<path d="M275.02 568.50L275.02 570.90M273.99 569.10L276.06 570.30M273.99 570.30L276.06 569.10" stroke="#333" stroke-width="0.6" fill="none"/>
<line x1="262.10" y1="579.10" x2="272.20" y2="579.10" stroke="#333" stroke-width="0.75"/>
<path d="M263.32 574.80L263.32 577.20M262.29 575.40L264.36 576.60M262.29 576.60L264.36 575.40" stroke="#333" stroke-width="0.6" fill="none"/>
<path d="M265.88 574.80L265.88 577.20M264.84 575.40L266.91 576.60M264.84 576.60L266.91 575.40" stroke="#333" stroke-width="0.6" fill="none"/>
<path d="M268.42 574.80L268.42 577.20M267.39 575.40L269.46 576.60M267.39 576.60L269.46 575.40" stroke="#333" stroke-width="0.6" fill="none"/>
<path d="M270.97 574.80L270.97 577.20M269.94 575.40L272.01 576.60M269.94 576.60L272.01 575.40" stroke="#333" stroke-width="0.6" fill="none"/>
<line x1="285.20" y1="542.50" x2="298.20" y2="542.50" stroke="#333" stroke-width="0.75"/>
<path d="M287.88 538.20L287.88 540.60M286.84 538.80L288.91 540.00M286.84 540.00L288.91 538.80" stroke="#333" stroke-width="0.6" fill="none"/>
<path d="M290.43 538.20L290.43 540.60M289.39 538.80L291.46 540.00M289.39 540.00L291.46 538.80" stroke="#333" stroke-width="0.6" fill="none"/>
<path d="M292.97 538.20L292.97 540.60M291.94 538.80L294.01 540.00M291.94 540.00L294.01 538.80" stroke="#333" stroke-width="0.6" fill="none"/>
<path d="M295.52 538.20L295.52 540.60M294.49 538.80L296.56 540.00M294.49 540.00L296.56 538.80" stroke="#333" stroke-width="0.6" fill="none"/>
<line x1="306.80" y1="574.80" x2="319.80" y2="574.80" stroke="#333" stroke-width="0.75"/>
<path d="M309.48 570.50L309.48 572.90M308.44 571.10L310.51 572.30M308.44 572.30L310.51 571.10" stroke="#333" stroke-width="0.6" fill="none"/>
<path d="M312.03 570.50L312.03 572.90M310.99 571.10L313.06 572.30M310.99 572.30L313.06 571.10" stroke="#333" stroke-width="0.6" fill="none"/>
<path d="M314.57 570.50L314.57 572.90M313.54 571.10L315.61 572.30M313.54 572.30L315.61 571.10" stroke="#333" stroke-width="0.6" fill="none"/>
<path d="M317.12 570.50L317.12 572.90M316.09 571.10L318.16 572.30M316.09 572.30L318.16 571.10" stroke="#333" stroke-width="0.6" fill="none"/>
<line x1="305.40" y1="582.00" x2="314.00" y2="582.00" stroke="#333" stroke-width="0.75"/>
<path d="M305.88 577.70L305.88 580.10M304.84 578.30L306.91 579.50M304.84 579.50L306.91 578.30" stroke="#333" stroke-width="0.6" fill="none"/>
<path d="M308.43 577.70L308.43 580.10M307.39 578.30L309.46 579.50M307.39 579.50L309.46 578.30" stroke="#333" stroke-width="0.6" fill="none"/>
<path d="M310.97 577.70L310.97 580.10M309.94 578.30L312.01 579.50M309.94 579.50L312.01 578.30" stroke="#333" stroke-width="0.6" fill="none"/>
<path d="M313.52 577.70L313.52 580.10M312.49 578.30L314.56 579.50M312.49 579.50L314.56 578.30" stroke="#333" stroke-width="0.6" fill="none"/>
<text x="239.00" y="533.00" font-size="8.6" fill="#333" stroke="#333" stroke-width="0.12" font-style="italic" textLength="62.00" lengthAdjust="spacingAndGlyphs">NFKBID (IKBNS)</text>
<line x1="218.35" y1="616.30" x2="220.75" y2="616.30" stroke="#444" stroke-width="0.6"/>
<line x1="219.55" y1="615.10" x2="219.55" y2="617.50" stroke="#444" stroke-width="0.6"/>
<line x1="225.56" y1="625.80" x2="227.96" y2="625.80" stroke="#444" stroke-width="0.6"/>
<line x1="226.76" y1="624.60" x2="226.76" y2="627.00" stroke="#444" stroke-width="0.6"/>
<line x1="232.78" y1="635.50" x2="235.18" y2="635.50" stroke="#444" stroke-width="0.6"/>
<line x1="233.98" y1="634.30" x2="233.98" y2="636.70" stroke="#444" stroke-width="0.6"/>
<line x1="239.99" y1="616.30" x2="242.39" y2="616.30" stroke="#444" stroke-width="0.6"/>
<line x1="241.19" y1="615.10" x2="241.19" y2="617.50" stroke="#444" stroke-width="0.6"/>
<line x1="247.21" y1="625.80" x2="249.61" y2="625.80" stroke="#444" stroke-width="0.6"/>
<line x1="248.41" y1="624.60" x2="248.41" y2="627.00" stroke="#444" stroke-width="0.6"/>
<line x1="254.42" y1="635.50" x2="256.82" y2="635.50" stroke="#444" stroke-width="0.6"/>
<line x1="255.62" y1="634.30" x2="255.62" y2="636.70" stroke="#444" stroke-width="0.6"/>
<line x1="261.63" y1="616.30" x2="264.03" y2="616.30" stroke="#444" stroke-width="0.6"/>
<line x1="262.83" y1="615.10" x2="262.83" y2="617.50" stroke="#444" stroke-width="0.6"/>
<line x1="268.85" y1="625.80" x2="271.25" y2="625.80" stroke="#444" stroke-width="0.6"/>
<line x1="270.05" y1="624.60" x2="270.05" y2="627.00" stroke="#444" stroke-width="0.6"/>
<line x1="276.06" y1="635.50" x2="278.46" y2="635.50" stroke="#444" stroke-width="0.6"/>
<line x1="277.26" y1="634.30" x2="277.26" y2="636.70" stroke="#444" stroke-width="0.6"/>
<line x1="283.28" y1="616.30" x2="285.68" y2="616.30" stroke="#444" stroke-width="0.6"/>
<line x1="284.48" y1="615.10" x2="284.48" y2="617.50" stroke="#444" stroke-width="0.6"/>
<line x1="290.49" y1="625.80" x2="292.89" y2="625.80" stroke="#444" stroke-width="0.6"/>
<line x1="291.69" y1="624.60" x2="291.69" y2="627.00" stroke="#444" stroke-width="0.6"/>
<line x1="297.70" y1="635.50" x2="300.10" y2="635.50" stroke="#444" stroke-width="0.6"/>
<line x1="298.90" y1="634.30" x2="298.90" y2="636.70" stroke="#444" stroke-width="0.6"/>
<line x1="304.92" y1="616.30" x2="307.32" y2="616.30" stroke="#444" stroke-width="0.6"/>
<line x1="306.12" y1="615.10" x2="306.12" y2="617.50" stroke="#444" stroke-width="0.6"/>
<line x1="312.13" y1="625.80" x2="314.53" y2="625.80" stroke="#444" stroke-width="0.6"/>
<line x1="313.33" y1="624.60" x2="313.33" y2="627.00" stroke="#444" stroke-width="0.6"/>
<line x1="319.35" y1="635.50" x2="321.75" y2="635.50" stroke="#444" stroke-width="0.6"/>
<line x1="320.55" y1="634.30" x2="320.55" y2="636.70" stroke="#444" stroke-width="0.6"/>
<line x1="217.25" y1="642.30" x2="236.28" y2="642.30" stroke="#333" stroke-width="0.8"/>
<text x="226.96" y="648.40" font-size="6.8" text-anchor="end" fill="#333" stroke="#333" stroke-width="0.12" textLength="27.40" lengthAdjust="spacingAndGlyphs" transform="rotate(-45 226.96 648.40)">OCI-Ly10</text>
<line x1="238.89" y1="642.30" x2="257.92" y2="642.30" stroke="#333" stroke-width="0.8"/>
<text x="248.61" y="648.40" font-size="6.8" text-anchor="end" fill="#333" stroke="#333" stroke-width="0.12" textLength="16.16" lengthAdjust="spacingAndGlyphs" transform="rotate(-45 248.61 648.40)">HBL1</text>
<line x1="260.53" y1="642.30" x2="279.56" y2="642.30" stroke="#333" stroke-width="0.8"/>
<text x="270.25" y="648.40" font-size="6.8" text-anchor="end" fill="#333" stroke="#333" stroke-width="0.12" textLength="17.58" lengthAdjust="spacingAndGlyphs" transform="rotate(-45 270.25 648.40)">TMD8</text>
<line x1="282.18" y1="642.30" x2="301.20" y2="642.30" stroke="#333" stroke-width="0.8"/>
<text x="291.89" y="648.40" font-size="6.8" text-anchor="end" fill="#333" stroke="#333" stroke-width="0.12" textLength="23.81" lengthAdjust="spacingAndGlyphs" transform="rotate(-45 291.89 648.40)">OCI-Ly3</text>
<line x1="303.82" y1="642.30" x2="322.85" y2="642.30" stroke="#333" stroke-width="0.8"/>
<text x="313.53" y="648.40" font-size="6.8" text-anchor="end" fill="#333" stroke="#333" stroke-width="0.12" textLength="19.03" lengthAdjust="spacingAndGlyphs" transform="rotate(-45 313.53 648.40)">U2932</text>
<rect x="358.70" y="577.10" width="4.30" height="32.90" fill="#2ea3d9"/>
<line x1="360.85" y1="577.10" x2="360.85" y2="562.53" stroke="#5a5a5a" stroke-width="0.8"/>
<line x1="359.35" y1="562.53" x2="362.35" y2="562.53" stroke="#5a5a5a" stroke-width="0.8"/>
<rect x="365.91" y="599.89" width="4.30" height="10.11" fill="#2ea3d9"/>
<line x1="368.06" y1="599.89" x2="368.06" y2="594.49" stroke="#5a5a5a" stroke-width="0.8"/>
<line x1="366.56" y1="594.49" x2="369.56" y2="594.49" stroke="#5a5a5a" stroke-width="0.8"/>
<rect x="373.13" y="591.67" width="4.30" height="18.33" fill="#2ea3d9"/>
<line x1="375.28" y1="591.67" x2="375.28" y2="580.62" stroke="#5a5a5a" stroke-width="0.8"/>
<line x1="373.78" y1="580.62" x2="376.78" y2="580.62" stroke="#5a5a5a" stroke-width="0.8"/>
<rect x="380.34" y="587.91" width="4.30" height="22.09" fill="#5aaee0"/>
<line x1="382.49" y1="587.91" x2="382.49" y2="586.97" stroke="#5a5a5a" stroke-width="0.8"/>
<line x1="380.99" y1="586.97" x2="383.99" y2="586.97" stroke="#5a5a5a" stroke-width="0.8"/>
<rect x="387.56" y="598.72" width="4.30" height="11.28" fill="#5aaee0"/>
<line x1="389.71" y1="598.72" x2="389.71" y2="595.90" stroke="#5a5a5a" stroke-width="0.8"/>
<line x1="388.21" y1="595.90" x2="391.21" y2="595.90" stroke="#5a5a5a" stroke-width="0.8"/>
<rect x="394.77" y="594.96" width="4.30" height="15.04" fill="#5aaee0"/>
<line x1="396.92" y1="594.96" x2="396.92" y2="594.02" stroke="#5a5a5a" stroke-width="0.8"/>
<line x1="395.42" y1="594.02" x2="398.42" y2="594.02" stroke="#5a5a5a" stroke-width="0.8"/>
<rect x="401.98" y="593.55" width="4.30" height="16.45" fill="#8cc6ec"/>
<line x1="404.13" y1="593.55" x2="404.13" y2="591.20" stroke="#5a5a5a" stroke-width="0.8"/>
<line x1="402.63" y1="591.20" x2="405.63" y2="591.20" stroke="#5a5a5a" stroke-width="0.8"/>
<rect x="409.20" y="603.42" width="4.30" height="6.58" fill="#8cc6ec"/>
<line x1="411.35" y1="603.42" x2="411.35" y2="602.95" stroke="#5a5a5a" stroke-width="0.8"/>
<line x1="409.85" y1="602.95" x2="412.85" y2="602.95" stroke="#5a5a5a" stroke-width="0.8"/>
<rect x="416.41" y="597.31" width="4.30" height="12.69" fill="#8cc6ec"/>
<rect x="423.63" y="563.00" width="4.30" height="47.00" fill="#c3dcf3"/>
<line x1="425.78" y1="563.00" x2="425.78" y2="560.18" stroke="#5a5a5a" stroke-width="0.8"/>
<line x1="424.28" y1="560.18" x2="427.28" y2="560.18" stroke="#5a5a5a" stroke-width="0.8"/>
<rect x="430.84" y="559.24" width="4.30" height="50.76" fill="#c3dcf3"/>
<line x1="432.99" y1="559.24" x2="432.99" y2="552.66" stroke="#5a5a5a" stroke-width="0.8"/>
<line x1="431.49" y1="552.66" x2="434.49" y2="552.66" stroke="#5a5a5a" stroke-width="0.8"/>
<rect x="438.05" y="574.75" width="4.30" height="35.25" fill="#c3dcf3"/>
<line x1="440.20" y1="574.75" x2="440.20" y2="570.99" stroke="#5a5a5a" stroke-width="0.8"/>
<line x1="438.70" y1="570.99" x2="441.70" y2="570.99" stroke="#5a5a5a" stroke-width="0.8"/>
<rect x="445.27" y="602.95" width="4.30" height="7.05" fill="#dde9f8"/>
<rect x="452.48" y="607.65" width="4.30" height="2.35" fill="#dde9f8"/>
<line x1="454.63" y1="607.65" x2="454.63" y2="606.24" stroke="#5a5a5a" stroke-width="0.8"/>
<line x1="453.13" y1="606.24" x2="456.13" y2="606.24" stroke="#5a5a5a" stroke-width="0.8"/>
<rect x="459.70" y="607.65" width="4.30" height="2.35" fill="#dde9f8"/>
<line x1="461.85" y1="607.65" x2="461.85" y2="606.24" stroke="#5a5a5a" stroke-width="0.8"/>
<line x1="460.35" y1="606.24" x2="463.35" y2="606.24" stroke="#5a5a5a" stroke-width="0.8"/>
<line x1="356.40" y1="610.20" x2="467.00" y2="610.20" stroke="#333" stroke-width="1.5"/>
<line x1="356.40" y1="538.90" x2="356.40" y2="610.00" stroke="#333" stroke-width="0.9"/>
<line x1="353.60" y1="610.00" x2="356.40" y2="610.00" stroke="#333" stroke-width="0.8"/>
<text x="351.40" y="612.30" font-size="6.4" text-anchor="end" fill="#333" stroke="#333" stroke-width="0.12" textLength="8.45" lengthAdjust="spacingAndGlyphs">0.0</text>
<line x1="353.60" y1="586.50" x2="356.40" y2="586.50" stroke="#333" stroke-width="0.8"/>
<text x="351.40" y="588.80" font-size="6.4" text-anchor="end" fill="#333" stroke="#333" stroke-width="0.12" textLength="8.45" lengthAdjust="spacingAndGlyphs">0.5</text>
<line x1="353.60" y1="563.00" x2="356.40" y2="563.00" stroke="#333" stroke-width="0.8"/>
<text x="351.40" y="565.30" font-size="6.4" text-anchor="end" fill="#333" stroke="#333" stroke-width="0.12" textLength="8.45" lengthAdjust="spacingAndGlyphs">1.0</text>
<line x1="353.60" y1="539.50" x2="356.40" y2="539.50" stroke="#333" stroke-width="0.8"/>
<text x="351.40" y="541.80" font-size="6.4" text-anchor="end" fill="#333" stroke="#333" stroke-width="0.12" textLength="8.45" lengthAdjust="spacingAndGlyphs">1.5</text>
<line x1="358.70" y1="560.40" x2="366.50" y2="560.40" stroke="#333" stroke-width="0.75"/>
<path d="M362.60 556.10L362.60 558.50M361.56 556.70L363.64 557.90M361.56 557.90L363.64 556.70" stroke="#333" stroke-width="0.6" fill="none"/>
<line x1="382.70" y1="577.10" x2="395.70" y2="577.10" stroke="#333" stroke-width="0.75"/>
<path d="M386.65 572.80L386.65 575.20M385.61 573.40L387.69 574.60M385.61 574.60L387.69 573.40" stroke="#333" stroke-width="0.6" fill="none"/>
<path d="M389.20 572.80L389.20 575.20M388.16 573.40L390.24 574.60M388.16 574.60L390.24 573.40" stroke="#333" stroke-width="0.6" fill="none"/>
<path d="M391.75 572.80L391.75 575.20M390.71 573.40L392.79 574.60M390.71 574.60L392.79 573.40" stroke="#333" stroke-width="0.6" fill="none"/>
<line x1="380.40" y1="584.00" x2="391.30" y2="584.00" stroke="#333" stroke-width="0.75"/>
<path d="M382.03 579.70L382.03 582.10M380.99 580.30L383.06 581.50M380.99 581.50L383.06 580.30" stroke="#333" stroke-width="0.6" fill="none"/>
<path d="M384.58 579.70L384.58 582.10M383.54 580.30L385.61 581.50M383.54 581.50L385.61 580.30" stroke="#333" stroke-width="0.6" fill="none"/>
<path d="M387.12 579.70L387.12 582.10M386.09 580.30L388.16 581.50M386.09 581.50L388.16 580.30" stroke="#333" stroke-width="0.6" fill="none"/>
<path d="M389.68 579.70L389.68 582.10M388.64 580.30L390.71 581.50M388.64 581.50L390.71 580.30" stroke="#333" stroke-width="0.6" fill="none"/>
<line x1="404.00" y1="580.60" x2="417.30" y2="580.60" stroke="#333" stroke-width="0.75"/>
<path d="M409.38 576.30L409.38 578.70M408.34 576.90L410.41 578.10M408.34 578.10L410.41 576.90" stroke="#333" stroke-width="0.6" fill="none"/>
<path d="M411.92 576.30L411.92 578.70M410.89 576.90L412.96 578.10M410.89 578.10L412.96 576.90" stroke="#333" stroke-width="0.6" fill="none"/>
<line x1="402.90" y1="588.60" x2="412.10" y2="588.60" stroke="#333" stroke-width="0.75"/>
<path d="M403.68 584.30L403.68 586.70M402.64 584.90L404.71 586.10M402.64 586.10L404.71 584.90" stroke="#333" stroke-width="0.6" fill="none"/>
<path d="M406.23 584.30L406.23 586.70M405.19 584.90L407.26 586.10M405.19 586.10L407.26 584.90" stroke="#333" stroke-width="0.6" fill="none"/>
<path d="M408.77 584.30L408.77 586.70M407.74 584.90L409.81 586.10M407.74 586.10L409.81 584.90" stroke="#333" stroke-width="0.6" fill="none"/>
<path d="M411.32 584.30L411.32 586.70M410.29 584.90L412.36 586.10M410.29 586.10L412.36 584.90" stroke="#333" stroke-width="0.6" fill="none"/>
<line x1="425.10" y1="548.80" x2="438.10" y2="548.80" stroke="#333" stroke-width="0.75"/>
<path d="M430.33 544.50L430.33 546.90M429.29 545.10L431.36 546.30M429.29 546.30L431.36 545.10" stroke="#333" stroke-width="0.6" fill="none"/>
<path d="M432.88 544.50L432.88 546.90M431.84 545.10L433.91 546.30M431.84 546.30L433.91 545.10" stroke="#333" stroke-width="0.6" fill="none"/>
<line x1="447.30" y1="594.00" x2="459.70" y2="594.00" stroke="#333" stroke-width="0.75"/>
<path d="M449.68 589.70L449.68 592.10M448.64 590.30L450.71 591.50M448.64 591.50L450.71 590.30" stroke="#333" stroke-width="0.6" fill="none"/>
<path d="M452.23 589.70L452.23 592.10M451.19 590.30L453.26 591.50M451.19 591.50L453.26 590.30" stroke="#333" stroke-width="0.6" fill="none"/>
<path d="M454.77 589.70L454.77 592.10M453.74 590.30L455.81 591.50M453.74 591.50L455.81 590.30" stroke="#333" stroke-width="0.6" fill="none"/>
<path d="M457.32 589.70L457.32 592.10M456.29 590.30L458.36 591.50M456.29 591.50L458.36 590.30" stroke="#333" stroke-width="0.6" fill="none"/>
<line x1="445.30" y1="601.10" x2="454.00" y2="601.10" stroke="#333" stroke-width="0.75"/>
<path d="M445.82 596.80L445.82 599.20M444.79 597.40L446.86 598.60M444.79 598.60L446.86 597.40" stroke="#333" stroke-width="0.6" fill="none"/>
<path d="M448.38 596.80L448.38 599.20M447.34 597.40L449.41 598.60M447.34 598.60L449.41 597.40" stroke="#333" stroke-width="0.6" fill="none"/>
<path d="M450.92 596.80L450.92 599.20M449.89 597.40L451.96 598.60M449.89 598.60L451.96 597.40" stroke="#333" stroke-width="0.6" fill="none"/>
<path d="M453.47 596.80L453.47 599.20M452.44 597.40L454.51 598.60M452.44 598.60L454.51 597.40" stroke="#333" stroke-width="0.6" fill="none"/>
<text x="362.50" y="533.00" font-size="8.6" fill="#333" stroke="#333" stroke-width="0.12" font-style="italic" textLength="97.20" lengthAdjust="spacingAndGlyphs">ZC3H12A (MCPIP1/Reg1)</text>
<line x1="359.65" y1="616.30" x2="362.05" y2="616.30" stroke="#444" stroke-width="0.6"/>
<line x1="360.85" y1="615.10" x2="360.85" y2="617.50" stroke="#444" stroke-width="0.6"/>
<line x1="366.86" y1="625.80" x2="369.26" y2="625.80" stroke="#444" stroke-width="0.6"/>
<line x1="368.06" y1="624.60" x2="368.06" y2="627.00" stroke="#444" stroke-width="0.6"/>
<line x1="374.08" y1="635.50" x2="376.48" y2="635.50" stroke="#444" stroke-width="0.6"/>
<line x1="375.28" y1="634.30" x2="375.28" y2="636.70" stroke="#444" stroke-width="0.6"/>
<line x1="381.29" y1="616.30" x2="383.69" y2="616.30" stroke="#444" stroke-width="0.6"/>
<line x1="382.49" y1="615.10" x2="382.49" y2="617.50" stroke="#444" stroke-width="0.6"/>
<line x1="388.51" y1="625.80" x2="390.91" y2="625.80" stroke="#444" stroke-width="0.6"/>
<line x1="389.71" y1="624.60" x2="389.71" y2="627.00" stroke="#444" stroke-width="0.6"/>
<line x1="395.72" y1="635.50" x2="398.12" y2="635.50" stroke="#444" stroke-width="0.6"/>
<line x1="396.92" y1="634.30" x2="396.92" y2="636.70" stroke="#444" stroke-width="0.6"/>
<line x1="402.93" y1="616.30" x2="405.33" y2="616.30" stroke="#444" stroke-width="0.6"/>
<line x1="404.13" y1="615.10" x2="404.13" y2="617.50" stroke="#444" stroke-width="0.6"/>
<line x1="410.15" y1="625.80" x2="412.55" y2="625.80" stroke="#444" stroke-width="0.6"/>
<line x1="411.35" y1="624.60" x2="411.35" y2="627.00" stroke="#444" stroke-width="0.6"/>
<line x1="417.36" y1="635.50" x2="419.76" y2="635.50" stroke="#444" stroke-width="0.6"/>
<line x1="418.56" y1="634.30" x2="418.56" y2="636.70" stroke="#444" stroke-width="0.6"/>
<line x1="424.58" y1="616.30" x2="426.98" y2="616.30" stroke="#444" stroke-width="0.6"/>
<line x1="425.78" y1="615.10" x2="425.78" y2="617.50" stroke="#444" stroke-width="0.6"/>
<line x1="431.79" y1="625.80" x2="434.19" y2="625.80" stroke="#444" stroke-width="0.6"/>
<line x1="432.99" y1="624.60" x2="432.99" y2="627.00" stroke="#444" stroke-width="0.6"/>
<line x1="439.00" y1="635.50" x2="441.40" y2="635.50" stroke="#444" stroke-width="0.6"/>
<line x1="440.20" y1="634.30" x2="440.20" y2="636.70" stroke="#444" stroke-width="0.6"/>
<line x1="446.22" y1="616.30" x2="448.62" y2="616.30" stroke="#444" stroke-width="0.6"/>
<line x1="447.42" y1="615.10" x2="447.42" y2="617.50" stroke="#444" stroke-width="0.6"/>
<line x1="453.43" y1="625.80" x2="455.83" y2="625.80" stroke="#444" stroke-width="0.6"/>
<line x1="454.63" y1="624.60" x2="454.63" y2="627.00" stroke="#444" stroke-width="0.6"/>
<line x1="460.65" y1="635.50" x2="463.05" y2="635.50" stroke="#444" stroke-width="0.6"/>
<line x1="461.85" y1="634.30" x2="461.85" y2="636.70" stroke="#444" stroke-width="0.6"/>
<line x1="358.55" y1="642.30" x2="377.58" y2="642.30" stroke="#333" stroke-width="0.8"/>
<text x="368.26" y="648.40" font-size="6.8" text-anchor="end" fill="#333" stroke="#333" stroke-width="0.12" textLength="27.40" lengthAdjust="spacingAndGlyphs" transform="rotate(-45 368.26 648.40)">OCI-Ly10</text>
<line x1="380.19" y1="642.30" x2="399.22" y2="642.30" stroke="#333" stroke-width="0.8"/>
<text x="389.91" y="648.40" font-size="6.8" text-anchor="end" fill="#333" stroke="#333" stroke-width="0.12" textLength="16.16" lengthAdjust="spacingAndGlyphs" transform="rotate(-45 389.91 648.40)">HBL1</text>
<line x1="401.83" y1="642.30" x2="420.86" y2="642.30" stroke="#333" stroke-width="0.8"/>
<text x="411.55" y="648.40" font-size="6.8" text-anchor="end" fill="#333" stroke="#333" stroke-width="0.12" textLength="17.58" lengthAdjust="spacingAndGlyphs" transform="rotate(-45 411.55 648.40)">TMD8</text>
<line x1="423.48" y1="642.30" x2="442.50" y2="642.30" stroke="#333" stroke-width="0.8"/>
<text x="433.19" y="648.40" font-size="6.8" text-anchor="end" fill="#333" stroke="#333" stroke-width="0.12" textLength="23.81" lengthAdjust="spacingAndGlyphs" transform="rotate(-45 433.19 648.40)">OCI-Ly3</text>
<line x1="445.12" y1="642.30" x2="464.15" y2="642.30" stroke="#333" stroke-width="0.8"/>
<text x="454.83" y="648.40" font-size="6.8" text-anchor="end" fill="#333" stroke="#333" stroke-width="0.12" textLength="19.03" lengthAdjust="spacingAndGlyphs" transform="rotate(-45 454.83 648.40)">U2932</text>
<text x="473.20" y="619.30" font-size="6.6" fill="#333" stroke="#333" stroke-width="0.12" textLength="18.81" lengthAdjust="spacingAndGlyphs">DMSO</text>
<text x="473.20" y="629.30" font-size="6.6" fill="#333" stroke="#333" stroke-width="0.12" textLength="24.00" lengthAdjust="spacingAndGlyphs">ibrutinib</text>
<text x="473.20" y="638.50" font-size="6.6" fill="#333" stroke="#333" stroke-width="0.12" textLength="24.28" lengthAdjust="spacingAndGlyphs">MLT-748</text>
<rect x="0.5" y="0.5" width="519" height="674" fill="none" stroke="#5c5c5c" stroke-width="1"/>
</svg>
</body></html>
